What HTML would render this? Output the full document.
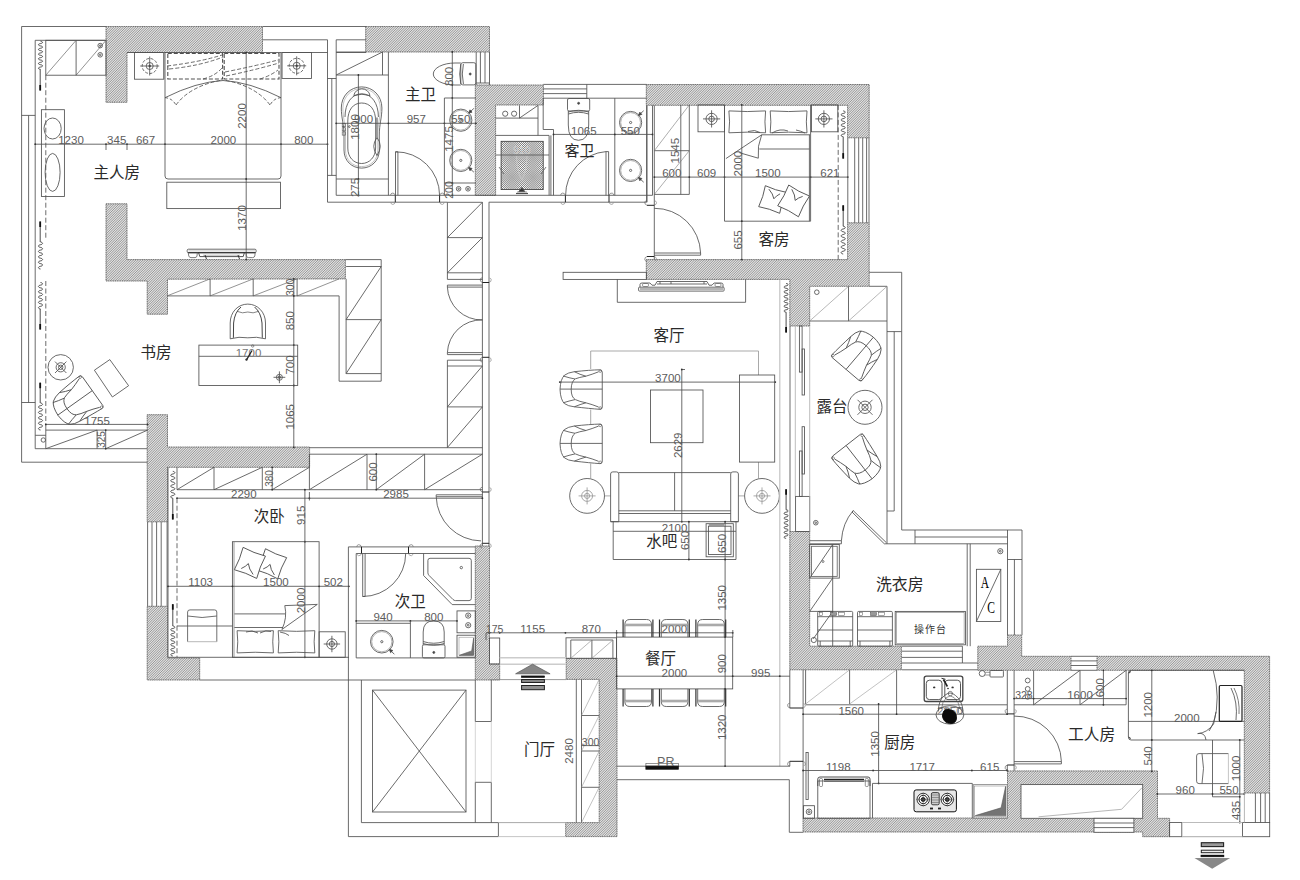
<!DOCTYPE html>
<html><head><meta charset="utf-8"><title>Floor plan</title>
<style>html,body{margin:0;padding:0;background:#fff}body{width:1300px;height:880px;overflow:hidden;font-family:"Liberation Sans",sans-serif}svg{display:block}</style>
</head><body>
<svg width="1300" height="880" viewBox="0 0 1300 880" fill="none" stroke="#505050" stroke-width="0.85" font-family="Liberation Sans, sans-serif">
<defs>
<pattern id="h" width="1.7" height="1.7" patternUnits="userSpaceOnUse"><rect width="1.7" height="1.7" fill="#fff" stroke="none"/><path d="M-0.425 0.425 L0.425 -0.425 M0 1.7 L1.7 0 M1.275 2.125 L2.125 1.275" stroke="#555" stroke-width="0.5"/></pattern>
<pattern id="x" width="2.4" height="2.4" patternUnits="userSpaceOnUse"><rect width="2.4" height="2.4" fill="#fff" stroke="none"/><path d="M0 0 L2.4 2.4 M2.4 0 L0 2.4" stroke="#222" stroke-width="0.75"/></pattern>
</defs>
<rect width="1300" height="880" fill="#fff" stroke="none"/>
<path d="M106 26.5 L262.5 26.5 L262.5 52.5 L127 52.5 L127 102.3 L106 102.3 Z" fill="#fff" stroke="none"/>
<path d="M365.7 26.5 L489.5 26.5 L489.5 52 L365.7 52 Z" fill="#fff" stroke="none"/>
<path d="M475.3 85 L543.4 85 L543.4 105 L495.6 105 L495.6 195.4 L475.3 195.4 Z" fill="#fff" stroke="none"/>
<path d="M646.3 84.5 L869.2 84.5 L869.2 137.8 L847.6 137.8 L847.6 105.3 L646.3 105.3 Z" fill="#fff" stroke="none"/>
<path d="M106 203.8 L127 203.8 L127 259.6 L345.4 259.6 L345.4 278.9 L167.5 279.2 L167.5 314.2 L147.2 314.2 L147.2 281 L106 281 Z" fill="#fff" stroke="none"/>
<path d="M646.3 259.6 L847.6 259.6 L847.6 222.8 L869.2 222.8 L869.2 286.3 L809.7 286.3 L809.7 326 L789.8 326 L789.8 279.4 L646.3 279.4 Z" fill="#fff" stroke="none"/>
<path d="M147.2 414.7 L167.5 414.7 L167.5 447 L309.6 447 L309.6 467.3 L167.5 467.3 L167.5 521.8 L147.2 521.8 Z" fill="#fff" stroke="none"/>
<path d="M147.2 606.3 L167.5 606.3 L167.5 657.9 L199.7 657.9 L199.7 680 L147.2 680 Z" fill="#fff" stroke="none"/>
<path d="M475.3 546 L489.5 546 L489.5 664 L499.7 664 L499.7 680 L475.3 680 Z" fill="#fff" stroke="none"/>
<path d="M566.2 658.4 L617 658.4 L617 836.6 L565.7 836.6 L565.7 822.6 L599.2 822.6 L599.2 679.4 L566.2 679.4 Z" fill="#fff" stroke="none"/>
<path d="M789.8 531.5 L809.7 531.5 L809.7 646.2 L901.4 646.2 L901.4 669.8 L789.8 669.8 Z" fill="#fff" stroke="none"/>
<path d="M1007.5 635 L1021.7 635 L1021.7 656.3 L1071 656.3 L1071 670.3 L977.8 670.3 L977.8 646.2 L1007.5 646.2 Z" fill="#fff" stroke="none"/>
<path d="M1097 656.3 L1269.6 656.3 L1269.6 793 L1244.3 793 L1244.3 670.3 L1097 670.3 Z" fill="#fff" stroke="none"/>
<path d="M803 818 L1007.5 818 L1007.5 770.9 L1157.5 770.9 L1157.5 818.3 L1169.6 818.3 L1169.6 836.7 L1142.7 836.7 L1142.7 832 L803 832 Z" fill="#fff" stroke="none"/>
<clipPath id="wc"><path d="M106 26.5 L262.5 26.5 L262.5 52.5 L127 52.5 L127 102.3 L106 102.3 Z M365.7 26.5 L489.5 26.5 L489.5 52 L365.7 52 Z M475.3 85 L543.4 85 L543.4 105 L495.6 105 L495.6 195.4 L475.3 195.4 Z M646.3 84.5 L869.2 84.5 L869.2 137.8 L847.6 137.8 L847.6 105.3 L646.3 105.3 Z M106 203.8 L127 203.8 L127 259.6 L345.4 259.6 L345.4 278.9 L167.5 279.2 L167.5 314.2 L147.2 314.2 L147.2 281 L106 281 Z M646.3 259.6 L847.6 259.6 L847.6 222.8 L869.2 222.8 L869.2 286.3 L809.7 286.3 L809.7 326 L789.8 326 L789.8 279.4 L646.3 279.4 Z M147.2 414.7 L167.5 414.7 L167.5 447 L309.6 447 L309.6 467.3 L167.5 467.3 L167.5 521.8 L147.2 521.8 Z M147.2 606.3 L167.5 606.3 L167.5 657.9 L199.7 657.9 L199.7 680 L147.2 680 Z M475.3 546 L489.5 546 L489.5 664 L499.7 664 L499.7 680 L475.3 680 Z M566.2 658.4 L617 658.4 L617 836.6 L565.7 836.6 L565.7 822.6 L599.2 822.6 L599.2 679.4 L566.2 679.4 Z M789.8 531.5 L809.7 531.5 L809.7 646.2 L901.4 646.2 L901.4 669.8 L789.8 669.8 Z M1007.5 635 L1021.7 635 L1021.7 656.3 L1071 656.3 L1071 670.3 L977.8 670.3 L977.8 646.2 L1007.5 646.2 Z M1097 656.3 L1269.6 656.3 L1269.6 793 L1244.3 793 L1244.3 670.3 L1097 670.3 Z M803 818 L1007.5 818 L1007.5 770.9 L1157.5 770.9 L1157.5 818.3 L1169.6 818.3 L1169.6 836.7 L1142.7 836.7 L1142.7 832 L803 832 Z"/></clipPath>
<path clip-path="url(#wc)" d="M0 0L-880 880M1.7 0L-878.3 880M3.4 0L-876.6 880M5.1 0L-874.9 880M6.8 0L-873.2 880M8.5 0L-871.5 880M10.2 0L-869.8 880M11.9 0L-868.1 880M13.6 0L-866.4 880M15.3 0L-864.7 880M17 0L-863 880M18.7 0L-861.3 880M20.4 0L-859.6 880M22.1 0L-857.9 880M23.8 0L-856.2 880M25.5 0L-854.5 880M27.2 0L-852.8 880M28.9 0L-851.1 880M30.6 0L-849.4 880M32.3 0L-847.7 880M34 0L-846 880M35.7 0L-844.3 880M37.4 0L-842.6 880M39.1 0L-840.9 880M40.8 0L-839.2 880M42.5 0L-837.5 880M44.2 0L-835.8 880M45.9 0L-834.1 880M47.6 0L-832.4 880M49.3 0L-830.7 880M51 0L-829 880M52.7 0L-827.3 880M54.4 0L-825.6 880M56.1 0L-823.9 880M57.8 0L-822.2 880M59.5 0L-820.5 880M61.2 0L-818.8 880M62.9 0L-817.1 880M64.6 0L-815.4 880M66.3 0L-813.7 880M68 0L-812 880M69.7 0L-810.3 880M71.4 0L-808.6 880M73.1 0L-806.9 880M74.8 0L-805.2 880M76.5 0L-803.5 880M78.2 0L-801.8 880M79.9 0L-800.1 880M81.6 0L-798.4 880M83.3 0L-796.7 880M85 0L-795 880M86.7 0L-793.3 880M88.4 0L-791.6 880M90.1 0L-789.9 880M91.8 0L-788.2 880M93.5 0L-786.5 880M95.2 0L-784.8 880M96.9 0L-783.1 880M98.6 0L-781.4 880M100.3 0L-779.7 880M102 0L-778 880M103.7 0L-776.3 880M105.4 0L-774.6 880M107.1 0L-772.9 880M108.8 0L-771.2 880M110.5 0L-769.5 880M112.2 0L-767.8 880M113.9 0L-766.1 880M115.6 0L-764.4 880M117.3 0L-762.7 880M119 0L-761 880M120.7 0L-759.3 880M122.4 0L-757.6 880M124.1 0L-755.9 880M125.8 0L-754.2 880M127.5 0L-752.5 880M129.2 0L-750.8 880M130.9 0L-749.1 880M132.6 0L-747.4 880M134.3 0L-745.7 880M136 0L-744 880M137.7 0L-742.3 880M139.4 0L-740.6 880M141.1 0L-738.9 880M142.8 0L-737.2 880M144.5 0L-735.5 880M146.2 0L-733.8 880M147.9 0L-732.1 880M149.6 0L-730.4 880M151.3 0L-728.7 880M153 0L-727 880M154.7 0L-725.3 880M156.4 0L-723.6 880M158.1 0L-721.9 880M159.8 0L-720.2 880M161.5 0L-718.5 880M163.2 0L-716.8 880M164.9 0L-715.1 880M166.6 0L-713.4 880M168.3 0L-711.7 880M170 0L-710 880M171.7 0L-708.3 880M173.4 0L-706.6 880M175.1 0L-704.9 880M176.8 0L-703.2 880M178.5 0L-701.5 880M180.2 0L-699.8 880M181.9 0L-698.1 880M183.6 0L-696.4 880M185.3 0L-694.7 880M187 0L-693 880M188.7 0L-691.3 880M190.4 0L-689.6 880M192.1 0L-687.9 880M193.8 0L-686.2 880M195.5 0L-684.5 880M197.2 0L-682.8 880M198.9 0L-681.1 880M200.6 0L-679.4 880M202.3 0L-677.7 880M204 0L-676 880M205.7 0L-674.3 880M207.4 0L-672.6 880M209.1 0L-670.9 880M210.8 0L-669.2 880M212.5 0L-667.5 880M214.2 0L-665.8 880M215.9 0L-664.1 880M217.6 0L-662.4 880M219.3 0L-660.7 880M221 0L-659 880M222.7 0L-657.3 880M224.4 0L-655.6 880M226.1 0L-653.9 880M227.8 0L-652.2 880M229.5 0L-650.5 880M231.2 0L-648.8 880M232.9 0L-647.1 880M234.6 0L-645.4 880M236.3 0L-643.7 880M238 0L-642 880M239.7 0L-640.3 880M241.4 0L-638.6 880M243.1 0L-636.9 880M244.8 0L-635.2 880M246.5 0L-633.5 880M248.2 0L-631.8 880M249.9 0L-630.1 880M251.6 0L-628.4 880M253.3 0L-626.7 880M255 0L-625 880M256.7 0L-623.3 880M258.4 0L-621.6 880M260.1 0L-619.9 880M261.8 0L-618.2 880M263.5 0L-616.5 880M265.2 0L-614.8 880M266.9 0L-613.1 880M268.6 0L-611.4 880M270.3 0L-609.7 880M272 0L-608 880M273.7 0L-606.3 880M275.4 0L-604.6 880M277.1 0L-602.9 880M278.8 0L-601.2 880M280.5 0L-599.5 880M282.2 0L-597.8 880M283.9 0L-596.1 880M285.6 0L-594.4 880M287.3 0L-592.7 880M289 0L-591 880M290.7 0L-589.3 880M292.4 0L-587.6 880M294.1 0L-585.9 880M295.8 0L-584.2 880M297.5 0L-582.5 880M299.2 0L-580.8 880M300.9 0L-579.1 880M302.6 0L-577.4 880M304.3 0L-575.7 880M306 0L-574 880M307.7 0L-572.3 880M309.4 0L-570.6 880M311.1 0L-568.9 880M312.8 0L-567.2 880M314.5 0L-565.5 880M316.2 0L-563.8 880M317.9 0L-562.1 880M319.6 0L-560.4 880M321.3 0L-558.7 880M323 0L-557 880M324.7 0L-555.3 880M326.4 0L-553.6 880M328.1 0L-551.9 880M329.8 0L-550.2 880M331.5 0L-548.5 880M333.2 0L-546.8 880M334.9 0L-545.1 880M336.6 0L-543.4 880M338.3 0L-541.7 880M340 0L-540 880M341.7 0L-538.3 880M343.4 0L-536.6 880M345.1 0L-534.9 880M346.8 0L-533.2 880M348.5 0L-531.5 880M350.2 0L-529.8 880M351.9 0L-528.1 880M353.6 0L-526.4 880M355.3 0L-524.7 880M357 0L-523 880M358.7 0L-521.3 880M360.4 0L-519.6 880M362.1 0L-517.9 880M363.8 0L-516.2 880M365.5 0L-514.5 880M367.2 0L-512.8 880M368.9 0L-511.1 880M370.6 0L-509.4 880M372.3 0L-507.7 880M374 0L-506 880M375.7 0L-504.3 880M377.4 0L-502.6 880M379.1 0L-500.9 880M380.8 0L-499.2 880M382.5 0L-497.5 880M384.2 0L-495.8 880M385.9 0L-494.1 880M387.6 0L-492.4 880M389.3 0L-490.7 880M391 0L-489 880M392.7 0L-487.3 880M394.4 0L-485.6 880M396.1 0L-483.9 880M397.8 0L-482.2 880M399.5 0L-480.5 880M401.2 0L-478.8 880M402.9 0L-477.1 880M404.6 0L-475.4 880M406.3 0L-473.7 880M408 0L-472 880M409.7 0L-470.3 880M411.4 0L-468.6 880M413.1 0L-466.9 880M414.8 0L-465.2 880M416.5 0L-463.5 880M418.2 0L-461.8 880M419.9 0L-460.1 880M421.6 0L-458.4 880M423.3 0L-456.7 880M425 0L-455 880M426.7 0L-453.3 880M428.4 0L-451.6 880M430.1 0L-449.9 880M431.8 0L-448.2 880M433.5 0L-446.5 880M435.2 0L-444.8 880M436.9 0L-443.1 880M438.6 0L-441.4 880M440.3 0L-439.7 880M442 0L-438 880M443.7 0L-436.3 880M445.4 0L-434.6 880M447.1 0L-432.9 880M448.8 0L-431.2 880M450.5 0L-429.5 880M452.2 0L-427.8 880M453.9 0L-426.1 880M455.6 0L-424.4 880M457.3 0L-422.7 880M459 0L-421 880M460.7 0L-419.3 880M462.4 0L-417.6 880M464.1 0L-415.9 880M465.8 0L-414.2 880M467.5 0L-412.5 880M469.2 0L-410.8 880M470.9 0L-409.1 880M472.6 0L-407.4 880M474.3 0L-405.7 880M476 0L-404 880M477.7 0L-402.3 880M479.4 0L-400.6 880M481.1 0L-398.9 880M482.8 0L-397.2 880M484.5 0L-395.5 880M486.2 0L-393.8 880M487.9 0L-392.1 880M489.6 0L-390.4 880M491.3 0L-388.7 880M493 0L-387 880M494.7 0L-385.3 880M496.4 0L-383.6 880M498.1 0L-381.9 880M499.8 0L-380.2 880M501.5 0L-378.5 880M503.2 0L-376.8 880M504.9 0L-375.1 880M506.6 0L-373.4 880M508.3 0L-371.7 880M510 0L-370 880M511.7 0L-368.3 880M513.4 0L-366.6 880M515.1 0L-364.9 880M516.8 0L-363.2 880M518.5 0L-361.5 880M520.2 0L-359.8 880M521.9 0L-358.1 880M523.6 0L-356.4 880M525.3 0L-354.7 880M527 0L-353 880M528.7 0L-351.3 880M530.4 0L-349.6 880M532.1 0L-347.9 880M533.8 0L-346.2 880M535.5 0L-344.5 880M537.2 0L-342.8 880M538.9 0L-341.1 880M540.6 0L-339.4 880M542.3 0L-337.7 880M544 0L-336 880M545.7 0L-334.3 880M547.4 0L-332.6 880M549.1 0L-330.9 880M550.8 0L-329.2 880M552.5 0L-327.5 880M554.2 0L-325.8 880M555.9 0L-324.1 880M557.6 0L-322.4 880M559.3 0L-320.7 880M561 0L-319 880M562.7 0L-317.3 880M564.4 0L-315.6 880M566.1 0L-313.9 880M567.8 0L-312.2 880M569.5 0L-310.5 880M571.2 0L-308.8 880M572.9 0L-307.1 880M574.6 0L-305.4 880M576.3 0L-303.7 880M578 0L-302 880M579.7 0L-300.3 880M581.4 0L-298.6 880M583.1 0L-296.9 880M584.8 0L-295.2 880M586.5 0L-293.5 880M588.2 0L-291.8 880M589.9 0L-290.1 880M591.6 0L-288.4 880M593.3 0L-286.7 880M595 0L-285 880M596.7 0L-283.3 880M598.4 0L-281.6 880M600.1 0L-279.9 880M601.8 0L-278.2 880M603.5 0L-276.5 880M605.2 0L-274.8 880M606.9 0L-273.1 880M608.6 0L-271.4 880M610.3 0L-269.7 880M612 0L-268 880M613.7 0L-266.3 880M615.4 0L-264.6 880M617.1 0L-262.9 880M618.8 0L-261.2 880M620.5 0L-259.5 880M622.2 0L-257.8 880M623.9 0L-256.1 880M625.6 0L-254.4 880M627.3 0L-252.7 880M629 0L-251 880M630.7 0L-249.3 880M632.4 0L-247.6 880M634.1 0L-245.9 880M635.8 0L-244.2 880M637.5 0L-242.5 880M639.2 0L-240.8 880M640.9 0L-239.1 880M642.6 0L-237.4 880M644.3 0L-235.7 880M646 0L-234 880M647.7 0L-232.3 880M649.4 0L-230.6 880M651.1 0L-228.9 880M652.8 0L-227.2 880M654.5 0L-225.5 880M656.2 0L-223.8 880M657.9 0L-222.1 880M659.6 0L-220.4 880M661.3 0L-218.7 880M663 0L-217 880M664.7 0L-215.3 880M666.4 0L-213.6 880M668.1 0L-211.9 880M669.8 0L-210.2 880M671.5 0L-208.5 880M673.2 0L-206.8 880M674.9 0L-205.1 880M676.6 0L-203.4 880M678.3 0L-201.7 880M680 0L-200 880M681.7 0L-198.3 880M683.4 0L-196.6 880M685.1 0L-194.9 880M686.8 0L-193.2 880M688.5 0L-191.5 880M690.2 0L-189.8 880M691.9 0L-188.1 880M693.6 0L-186.4 880M695.3 0L-184.7 880M697 0L-183 880M698.7 0L-181.3 880M700.4 0L-179.6 880M702.1 0L-177.9 880M703.8 0L-176.2 880M705.5 0L-174.5 880M707.2 0L-172.8 880M708.9 0L-171.1 880M710.6 0L-169.4 880M712.3 0L-167.7 880M714 0L-166 880M715.7 0L-164.3 880M717.4 0L-162.6 880M719.1 0L-160.9 880M720.8 0L-159.2 880M722.5 0L-157.5 880M724.2 0L-155.8 880M725.9 0L-154.1 880M727.6 0L-152.4 880M729.3 0L-150.7 880M731 0L-149 880M732.7 0L-147.3 880M734.4 0L-145.6 880M736.1 0L-143.9 880M737.8 0L-142.2 880M739.5 0L-140.5 880M741.2 0L-138.8 880M742.9 0L-137.1 880M744.6 0L-135.4 880M746.3 0L-133.7 880M748 0L-132 880M749.7 0L-130.3 880M751.4 0L-128.6 880M753.1 0L-126.9 880M754.8 0L-125.2 880M756.5 0L-123.5 880M758.2 0L-121.8 880M759.9 0L-120.1 880M761.6 0L-118.4 880M763.3 0L-116.7 880M765 0L-115 880M766.7 0L-113.3 880M768.4 0L-111.6 880M770.1 0L-109.9 880M771.8 0L-108.2 880M773.5 0L-106.5 880M775.2 0L-104.8 880M776.9 0L-103.1 880M778.6 0L-101.4 880M780.3 0L-99.7 880M782 0L-98 880M783.7 0L-96.3 880M785.4 0L-94.6 880M787.1 0L-92.9 880M788.8 0L-91.2 880M790.5 0L-89.5 880M792.2 0L-87.8 880M793.9 0L-86.1 880M795.6 0L-84.4 880M797.3 0L-82.7 880M799 0L-81 880M800.7 0L-79.3 880M802.4 0L-77.6 880M804.1 0L-75.9 880M805.8 0L-74.2 880M807.5 0L-72.5 880M809.2 0L-70.8 880M810.9 0L-69.1 880M812.6 0L-67.4 880M814.3 0L-65.7 880M816 0L-64 880M817.7 0L-62.3 880M819.4 0L-60.6 880M821.1 0L-58.9 880M822.8 0L-57.2 880M824.5 0L-55.5 880M826.2 0L-53.8 880M827.9 0L-52.1 880M829.6 0L-50.4 880M831.3 0L-48.7 880M833 0L-47 880M834.7 0L-45.3 880M836.4 0L-43.6 880M838.1 0L-41.9 880M839.8 0L-40.2 880M841.5 0L-38.5 880M843.2 0L-36.8 880M844.9 0L-35.1 880M846.6 0L-33.4 880M848.3 0L-31.7 880M850 0L-30 880M851.7 0L-28.3 880M853.4 0L-26.6 880M855.1 0L-24.9 880M856.8 0L-23.2 880M858.5 0L-21.5 880M860.2 0L-19.8 880M861.9 0L-18.1 880M863.6 0L-16.4 880M865.3 0L-14.7 880M867 0L-13 880M868.7 0L-11.3 880M870.4 0L-9.6 880M872.1 0L-7.9 880M873.8 0L-6.2 880M875.5 0L-4.5 880M877.2 0L-2.8 880M878.9 0L-1.1 880M880.6 0L0.6 880M882.3 0L2.3 880M884 0L4 880M885.7 0L5.7 880M887.4 0L7.4 880M889.1 0L9.1 880M890.8 0L10.8 880M892.5 0L12.5 880M894.2 0L14.2 880M895.9 0L15.9 880M897.6 0L17.6 880M899.3 0L19.3 880M901 0L21 880M902.7 0L22.7 880M904.4 0L24.4 880M906.1 0L26.1 880M907.8 0L27.8 880M909.5 0L29.5 880M911.2 0L31.2 880M912.9 0L32.9 880M914.6 0L34.6 880M916.3 0L36.3 880M918 0L38 880M919.7 0L39.7 880M921.4 0L41.4 880M923.1 0L43.1 880M924.8 0L44.8 880M926.5 0L46.5 880M928.2 0L48.2 880M929.9 0L49.9 880M931.6 0L51.6 880M933.3 0L53.3 880M935 0L55 880M936.7 0L56.7 880M938.4 0L58.4 880M940.1 0L60.1 880M941.8 0L61.8 880M943.5 0L63.5 880M945.2 0L65.2 880M946.9 0L66.9 880M948.6 0L68.6 880M950.3 0L70.3 880M952 0L72 880M953.7 0L73.7 880M955.4 0L75.4 880M957.1 0L77.1 880M958.8 0L78.8 880M960.5 0L80.5 880M962.2 0L82.2 880M963.9 0L83.9 880M965.6 0L85.6 880M967.3 0L87.3 880M969 0L89 880M970.7 0L90.7 880M972.4 0L92.4 880M974.1 0L94.1 880M975.8 0L95.8 880M977.5 0L97.5 880M979.2 0L99.2 880M980.9 0L100.9 880M982.6 0L102.6 880M984.3 0L104.3 880M986 0L106 880M987.7 0L107.7 880M989.4 0L109.4 880M991.1 0L111.1 880M992.8 0L112.8 880M994.5 0L114.5 880M996.2 0L116.2 880M997.9 0L117.9 880M999.6 0L119.6 880M1001.3 0L121.3 880M1003 0L123 880M1004.7 0L124.7 880M1006.4 0L126.4 880M1008.1 0L128.1 880M1009.8 0L129.8 880M1011.5 0L131.5 880M1013.2 0L133.2 880M1014.9 0L134.9 880M1016.6 0L136.6 880M1018.3 0L138.3 880M1020 0L140 880M1021.7 0L141.7 880M1023.4 0L143.4 880M1025.1 0L145.1 880M1026.8 0L146.8 880M1028.5 0L148.5 880M1030.2 0L150.2 880M1031.9 0L151.9 880M1033.6 0L153.6 880M1035.3 0L155.3 880M1037 0L157 880M1038.7 0L158.7 880M1040.4 0L160.4 880M1042.1 0L162.1 880M1043.8 0L163.8 880M1045.5 0L165.5 880M1047.2 0L167.2 880M1048.9 0L168.9 880M1050.6 0L170.6 880M1052.3 0L172.3 880M1054 0L174 880M1055.7 0L175.7 880M1057.4 0L177.4 880M1059.1 0L179.1 880M1060.8 0L180.8 880M1062.5 0L182.5 880M1064.2 0L184.2 880M1065.9 0L185.9 880M1067.6 0L187.6 880M1069.3 0L189.3 880M1071 0L191 880M1072.7 0L192.7 880M1074.4 0L194.4 880M1076.1 0L196.1 880M1077.8 0L197.8 880M1079.5 0L199.5 880M1081.2 0L201.2 880M1082.9 0L202.9 880M1084.6 0L204.6 880M1086.3 0L206.3 880M1088 0L208 880M1089.7 0L209.7 880M1091.4 0L211.4 880M1093.1 0L213.1 880M1094.8 0L214.8 880M1096.5 0L216.5 880M1098.2 0L218.2 880M1099.9 0L219.9 880M1101.6 0L221.6 880M1103.3 0L223.3 880M1105 0L225 880M1106.7 0L226.7 880M1108.4 0L228.4 880M1110.1 0L230.1 880M1111.8 0L231.8 880M1113.5 0L233.5 880M1115.2 0L235.2 880M1116.9 0L236.9 880M1118.6 0L238.6 880M1120.3 0L240.3 880M1122 0L242 880M1123.7 0L243.7 880M1125.4 0L245.4 880M1127.1 0L247.1 880M1128.8 0L248.8 880M1130.5 0L250.5 880M1132.2 0L252.2 880M1133.9 0L253.9 880M1135.6 0L255.6 880M1137.3 0L257.3 880M1139 0L259 880M1140.7 0L260.7 880M1142.4 0L262.4 880M1144.1 0L264.1 880M1145.8 0L265.8 880M1147.5 0L267.5 880M1149.2 0L269.2 880M1150.9 0L270.9 880M1152.6 0L272.6 880M1154.3 0L274.3 880M1156 0L276 880M1157.7 0L277.7 880M1159.4 0L279.4 880M1161.1 0L281.1 880M1162.8 0L282.8 880M1164.5 0L284.5 880M1166.2 0L286.2 880M1167.9 0L287.9 880M1169.6 0L289.6 880M1171.3 0L291.3 880M1173 0L293 880M1174.7 0L294.7 880M1176.4 0L296.4 880M1178.1 0L298.1 880M1179.8 0L299.8 880M1181.5 0L301.5 880M1183.2 0L303.2 880M1184.9 0L304.9 880M1186.6 0L306.6 880M1188.3 0L308.3 880M1190 0L310 880M1191.7 0L311.7 880M1193.4 0L313.4 880M1195.1 0L315.1 880M1196.8 0L316.8 880M1198.5 0L318.5 880M1200.2 0L320.2 880M1201.9 0L321.9 880M1203.6 0L323.6 880M1205.3 0L325.3 880M1207 0L327 880M1208.7 0L328.7 880M1210.4 0L330.4 880M1212.1 0L332.1 880M1213.8 0L333.8 880M1215.5 0L335.5 880M1217.2 0L337.2 880M1218.9 0L338.9 880M1220.6 0L340.6 880M1222.3 0L342.3 880M1224 0L344 880M1225.7 0L345.7 880M1227.4 0L347.4 880M1229.1 0L349.1 880M1230.8 0L350.8 880M1232.5 0L352.5 880M1234.2 0L354.2 880M1235.9 0L355.9 880M1237.6 0L357.6 880M1239.3 0L359.3 880M1241 0L361 880M1242.7 0L362.7 880M1244.4 0L364.4 880M1246.1 0L366.1 880M1247.8 0L367.8 880M1249.5 0L369.5 880M1251.2 0L371.2 880M1252.9 0L372.9 880M1254.6 0L374.6 880M1256.3 0L376.3 880M1258 0L378 880M1259.7 0L379.7 880M1261.4 0L381.4 880M1263.1 0L383.1 880M1264.8 0L384.8 880M1266.5 0L386.5 880M1268.2 0L388.2 880M1269.9 0L389.9 880M1271.6 0L391.6 880M1273.3 0L393.3 880M1275 0L395 880M1276.7 0L396.7 880M1278.4 0L398.4 880M1280.1 0L400.1 880M1281.8 0L401.8 880M1283.5 0L403.5 880M1285.2 0L405.2 880M1286.9 0L406.9 880M1288.6 0L408.6 880M1290.3 0L410.3 880M1292 0L412 880M1293.7 0L413.7 880M1295.4 0L415.4 880M1297.1 0L417.1 880M1298.8 0L418.8 880M1300.5 0L420.5 880M1302.2 0L422.2 880M1303.9 0L423.9 880M1305.6 0L425.6 880M1307.3 0L427.3 880M1309 0L429 880M1310.7 0L430.7 880M1312.4 0L432.4 880M1314.1 0L434.1 880M1315.8 0L435.8 880M1317.5 0L437.5 880M1319.2 0L439.2 880M1320.9 0L440.9 880M1322.6 0L442.6 880M1324.3 0L444.3 880M1326 0L446 880M1327.7 0L447.7 880M1329.4 0L449.4 880M1331.1 0L451.1 880M1332.8 0L452.8 880M1334.5 0L454.5 880M1336.2 0L456.2 880M1337.9 0L457.9 880M1339.6 0L459.6 880M1341.3 0L461.3 880M1343 0L463 880M1344.7 0L464.7 880M1346.4 0L466.4 880M1348.1 0L468.1 880M1349.8 0L469.8 880M1351.5 0L471.5 880M1353.2 0L473.2 880M1354.9 0L474.9 880M1356.6 0L476.6 880M1358.3 0L478.3 880M1360 0L480 880M1361.7 0L481.7 880M1363.4 0L483.4 880M1365.1 0L485.1 880M1366.8 0L486.8 880M1368.5 0L488.5 880M1370.2 0L490.2 880M1371.9 0L491.9 880M1373.6 0L493.6 880M1375.3 0L495.3 880M1377 0L497 880M1378.7 0L498.7 880M1380.4 0L500.4 880M1382.1 0L502.1 880M1383.8 0L503.8 880M1385.5 0L505.5 880M1387.2 0L507.2 880M1388.9 0L508.9 880M1390.6 0L510.6 880M1392.3 0L512.3 880M1394 0L514 880M1395.7 0L515.7 880M1397.4 0L517.4 880M1399.1 0L519.1 880M1400.8 0L520.8 880M1402.5 0L522.5 880M1404.2 0L524.2 880M1405.9 0L525.9 880M1407.6 0L527.6 880M1409.3 0L529.3 880M1411 0L531 880M1412.7 0L532.7 880M1414.4 0L534.4 880M1416.1 0L536.1 880M1417.8 0L537.8 880M1419.5 0L539.5 880M1421.2 0L541.2 880M1422.9 0L542.9 880M1424.6 0L544.6 880M1426.3 0L546.3 880M1428 0L548 880M1429.7 0L549.7 880M1431.4 0L551.4 880M1433.1 0L553.1 880M1434.8 0L554.8 880M1436.5 0L556.5 880M1438.2 0L558.2 880M1439.9 0L559.9 880M1441.6 0L561.6 880M1443.3 0L563.3 880M1445 0L565 880M1446.7 0L566.7 880M1448.4 0L568.4 880M1450.1 0L570.1 880M1451.8 0L571.8 880M1453.5 0L573.5 880M1455.2 0L575.2 880M1456.9 0L576.9 880M1458.6 0L578.6 880M1460.3 0L580.3 880M1462 0L582 880M1463.7 0L583.7 880M1465.4 0L585.4 880M1467.1 0L587.1 880M1468.8 0L588.8 880M1470.5 0L590.5 880M1472.2 0L592.2 880M1473.9 0L593.9 880M1475.6 0L595.6 880M1477.3 0L597.3 880M1479 0L599 880M1480.7 0L600.7 880M1482.4 0L602.4 880M1484.1 0L604.1 880M1485.8 0L605.8 880M1487.5 0L607.5 880M1489.2 0L609.2 880M1490.9 0L610.9 880M1492.6 0L612.6 880M1494.3 0L614.3 880M1496 0L616 880M1497.7 0L617.7 880M1499.4 0L619.4 880M1501.1 0L621.1 880M1502.8 0L622.8 880M1504.5 0L624.5 880M1506.2 0L626.2 880M1507.9 0L627.9 880M1509.6 0L629.6 880M1511.3 0L631.3 880M1513 0L633 880M1514.7 0L634.7 880M1516.4 0L636.4 880M1518.1 0L638.1 880M1519.8 0L639.8 880M1521.5 0L641.5 880M1523.2 0L643.2 880M1524.9 0L644.9 880M1526.6 0L646.6 880M1528.3 0L648.3 880M1530 0L650 880M1531.7 0L651.7 880M1533.4 0L653.4 880M1535.1 0L655.1 880M1536.8 0L656.8 880M1538.5 0L658.5 880M1540.2 0L660.2 880M1541.9 0L661.9 880M1543.6 0L663.6 880M1545.3 0L665.3 880M1547 0L667 880M1548.7 0L668.7 880M1550.4 0L670.4 880M1552.1 0L672.1 880M1553.8 0L673.8 880M1555.5 0L675.5 880M1557.2 0L677.2 880M1558.9 0L678.9 880M1560.6 0L680.6 880M1562.3 0L682.3 880M1564 0L684 880M1565.7 0L685.7 880M1567.4 0L687.4 880M1569.1 0L689.1 880M1570.8 0L690.8 880M1572.5 0L692.5 880M1574.2 0L694.2 880M1575.9 0L695.9 880M1577.6 0L697.6 880M1579.3 0L699.3 880M1581 0L701 880M1582.7 0L702.7 880M1584.4 0L704.4 880M1586.1 0L706.1 880M1587.8 0L707.8 880M1589.5 0L709.5 880M1591.2 0L711.2 880M1592.9 0L712.9 880M1594.6 0L714.6 880M1596.3 0L716.3 880M1598 0L718 880M1599.7 0L719.7 880M1601.4 0L721.4 880M1603.1 0L723.1 880M1604.8 0L724.8 880M1606.5 0L726.5 880M1608.2 0L728.2 880M1609.9 0L729.9 880M1611.6 0L731.6 880M1613.3 0L733.3 880M1615 0L735 880M1616.7 0L736.7 880M1618.4 0L738.4 880M1620.1 0L740.1 880M1621.8 0L741.8 880M1623.5 0L743.5 880M1625.2 0L745.2 880M1626.9 0L746.9 880M1628.6 0L748.6 880M1630.3 0L750.3 880M1632 0L752 880M1633.7 0L753.7 880M1635.4 0L755.4 880M1637.1 0L757.1 880M1638.8 0L758.8 880M1640.5 0L760.5 880M1642.2 0L762.2 880M1643.9 0L763.9 880M1645.6 0L765.6 880M1647.3 0L767.3 880M1649 0L769 880M1650.7 0L770.7 880M1652.4 0L772.4 880M1654.1 0L774.1 880M1655.8 0L775.8 880M1657.5 0L777.5 880M1659.2 0L779.2 880M1660.9 0L780.9 880M1662.6 0L782.6 880M1664.3 0L784.3 880M1666 0L786 880M1667.7 0L787.7 880M1669.4 0L789.4 880M1671.1 0L791.1 880M1672.8 0L792.8 880M1674.5 0L794.5 880M1676.2 0L796.2 880M1677.9 0L797.9 880M1679.6 0L799.6 880M1681.3 0L801.3 880M1683 0L803 880M1684.7 0L804.7 880M1686.4 0L806.4 880M1688.1 0L808.1 880M1689.8 0L809.8 880M1691.5 0L811.5 880M1693.2 0L813.2 880M1694.9 0L814.9 880M1696.6 0L816.6 880M1698.3 0L818.3 880M1700 0L820 880M1701.7 0L821.7 880M1703.4 0L823.4 880M1705.1 0L825.1 880M1706.8 0L826.8 880M1708.5 0L828.5 880M1710.2 0L830.2 880M1711.9 0L831.9 880M1713.6 0L833.6 880M1715.3 0L835.3 880M1717 0L837 880M1718.7 0L838.7 880M1720.4 0L840.4 880M1722.1 0L842.1 880M1723.8 0L843.8 880M1725.5 0L845.5 880M1727.2 0L847.2 880M1728.9 0L848.9 880M1730.6 0L850.6 880M1732.3 0L852.3 880M1734 0L854 880M1735.7 0L855.7 880M1737.4 0L857.4 880M1739.1 0L859.1 880M1740.8 0L860.8 880M1742.5 0L862.5 880M1744.2 0L864.2 880M1745.9 0L865.9 880M1747.6 0L867.6 880M1749.3 0L869.3 880M1751 0L871 880M1752.7 0L872.7 880M1754.4 0L874.4 880M1756.1 0L876.1 880M1757.8 0L877.8 880M1759.5 0L879.5 880M1761.2 0L881.2 880M1762.9 0L882.9 880M1764.6 0L884.6 880M1766.3 0L886.3 880M1768 0L888 880M1769.7 0L889.7 880M1771.4 0L891.4 880M1773.1 0L893.1 880M1774.8 0L894.8 880M1776.5 0L896.5 880M1778.2 0L898.2 880M1779.9 0L899.9 880M1781.6 0L901.6 880M1783.3 0L903.3 880M1785 0L905 880M1786.7 0L906.7 880M1788.4 0L908.4 880M1790.1 0L910.1 880M1791.8 0L911.8 880M1793.5 0L913.5 880M1795.2 0L915.2 880M1796.9 0L916.9 880M1798.6 0L918.6 880M1800.3 0L920.3 880M1802 0L922 880M1803.7 0L923.7 880M1805.4 0L925.4 880M1807.1 0L927.1 880M1808.8 0L928.8 880M1810.5 0L930.5 880M1812.2 0L932.2 880M1813.9 0L933.9 880M1815.6 0L935.6 880M1817.3 0L937.3 880M1819 0L939 880M1820.7 0L940.7 880M1822.4 0L942.4 880M1824.1 0L944.1 880M1825.8 0L945.8 880M1827.5 0L947.5 880M1829.2 0L949.2 880M1830.9 0L950.9 880M1832.6 0L952.6 880M1834.3 0L954.3 880M1836 0L956 880M1837.7 0L957.7 880M1839.4 0L959.4 880M1841.1 0L961.1 880M1842.8 0L962.8 880M1844.5 0L964.5 880M1846.2 0L966.2 880M1847.9 0L967.9 880M1849.6 0L969.6 880M1851.3 0L971.3 880M1853 0L973 880M1854.7 0L974.7 880M1856.4 0L976.4 880M1858.1 0L978.1 880M1859.8 0L979.8 880M1861.5 0L981.5 880M1863.2 0L983.2 880M1864.9 0L984.9 880M1866.6 0L986.6 880M1868.3 0L988.3 880M1870 0L990 880M1871.7 0L991.7 880M1873.4 0L993.4 880M1875.1 0L995.1 880M1876.8 0L996.8 880M1878.5 0L998.5 880M1880.2 0L1000.2 880M1881.9 0L1001.9 880M1883.6 0L1003.6 880M1885.3 0L1005.3 880M1887 0L1007 880M1888.7 0L1008.7 880M1890.4 0L1010.4 880M1892.1 0L1012.1 880M1893.8 0L1013.8 880M1895.5 0L1015.5 880M1897.2 0L1017.2 880M1898.9 0L1018.9 880M1900.6 0L1020.6 880M1902.3 0L1022.3 880M1904 0L1024 880M1905.7 0L1025.7 880M1907.4 0L1027.4 880M1909.1 0L1029.1 880M1910.8 0L1030.8 880M1912.5 0L1032.5 880M1914.2 0L1034.2 880M1915.9 0L1035.9 880M1917.6 0L1037.6 880M1919.3 0L1039.3 880M1921 0L1041 880M1922.7 0L1042.7 880M1924.4 0L1044.4 880M1926.1 0L1046.1 880M1927.8 0L1047.8 880M1929.5 0L1049.5 880M1931.2 0L1051.2 880M1932.9 0L1052.9 880M1934.6 0L1054.6 880M1936.3 0L1056.3 880M1938 0L1058 880M1939.7 0L1059.7 880M1941.4 0L1061.4 880M1943.1 0L1063.1 880M1944.8 0L1064.8 880M1946.5 0L1066.5 880M1948.2 0L1068.2 880M1949.9 0L1069.9 880M1951.6 0L1071.6 880M1953.3 0L1073.3 880M1955 0L1075 880M1956.7 0L1076.7 880M1958.4 0L1078.4 880M1960.1 0L1080.1 880M1961.8 0L1081.8 880M1963.5 0L1083.5 880M1965.2 0L1085.2 880M1966.9 0L1086.9 880M1968.6 0L1088.6 880M1970.3 0L1090.3 880M1972 0L1092 880M1973.7 0L1093.7 880M1975.4 0L1095.4 880M1977.1 0L1097.1 880M1978.8 0L1098.8 880M1980.5 0L1100.5 880M1982.2 0L1102.2 880M1983.9 0L1103.9 880M1985.6 0L1105.6 880M1987.3 0L1107.3 880M1989 0L1109 880M1990.7 0L1110.7 880M1992.4 0L1112.4 880M1994.1 0L1114.1 880M1995.8 0L1115.8 880M1997.5 0L1117.5 880M1999.2 0L1119.2 880M2000.9 0L1120.9 880M2002.6 0L1122.6 880M2004.3 0L1124.3 880M2006 0L1126 880M2007.7 0L1127.7 880M2009.4 0L1129.4 880M2011.1 0L1131.1 880M2012.8 0L1132.8 880M2014.5 0L1134.5 880M2016.2 0L1136.2 880M2017.9 0L1137.9 880M2019.6 0L1139.6 880M2021.3 0L1141.3 880M2023 0L1143 880M2024.7 0L1144.7 880M2026.4 0L1146.4 880M2028.1 0L1148.1 880M2029.8 0L1149.8 880M2031.5 0L1151.5 880M2033.2 0L1153.2 880M2034.9 0L1154.9 880M2036.6 0L1156.6 880M2038.3 0L1158.3 880M2040 0L1160 880M2041.7 0L1161.7 880M2043.4 0L1163.4 880M2045.1 0L1165.1 880M2046.8 0L1166.8 880M2048.5 0L1168.5 880M2050.2 0L1170.2 880M2051.9 0L1171.9 880M2053.6 0L1173.6 880M2055.3 0L1175.3 880M2057 0L1177 880M2058.7 0L1178.7 880M2060.4 0L1180.4 880M2062.1 0L1182.1 880M2063.8 0L1183.8 880M2065.5 0L1185.5 880M2067.2 0L1187.2 880M2068.9 0L1188.9 880M2070.6 0L1190.6 880M2072.3 0L1192.3 880M2074 0L1194 880M2075.7 0L1195.7 880M2077.4 0L1197.4 880M2079.1 0L1199.1 880M2080.8 0L1200.8 880M2082.5 0L1202.5 880M2084.2 0L1204.2 880M2085.9 0L1205.9 880M2087.6 0L1207.6 880M2089.3 0L1209.3 880M2091 0L1211 880M2092.7 0L1212.7 880M2094.4 0L1214.4 880M2096.1 0L1216.1 880M2097.8 0L1217.8 880M2099.5 0L1219.5 880M2101.2 0L1221.2 880M2102.9 0L1222.9 880M2104.6 0L1224.6 880M2106.3 0L1226.3 880M2108 0L1228 880M2109.7 0L1229.7 880M2111.4 0L1231.4 880M2113.1 0L1233.1 880M2114.8 0L1234.8 880M2116.5 0L1236.5 880M2118.2 0L1238.2 880M2119.9 0L1239.9 880M2121.6 0L1241.6 880M2123.3 0L1243.3 880M2125 0L1245 880M2126.7 0L1246.7 880M2128.4 0L1248.4 880M2130.1 0L1250.1 880M2131.8 0L1251.8 880M2133.5 0L1253.5 880M2135.2 0L1255.2 880M2136.9 0L1256.9 880M2138.6 0L1258.6 880M2140.3 0L1260.3 880M2142 0L1262 880M2143.7 0L1263.7 880M2145.4 0L1265.4 880M2147.1 0L1267.1 880M2148.8 0L1268.8 880M2150.5 0L1270.5 880M2152.2 0L1272.2 880M2153.9 0L1273.9 880M2155.6 0L1275.6 880M2157.3 0L1277.3 880M2159 0L1279 880M2160.7 0L1280.7 880M2162.4 0L1282.4 880M2164.1 0L1284.1 880M2165.8 0L1285.8 880M2167.5 0L1287.5 880M2169.2 0L1289.2 880M2170.9 0L1290.9 880M2172.6 0L1292.6 880M2174.3 0L1294.3 880M2176 0L1296 880M2177.7 0L1297.7 880M2179.4 0L1299.4 880" stroke="#404040" stroke-width="0.54"/>
<path d="M106 26.5 L262.5 26.5 L262.5 52.5 L127 52.5 L127 102.3 L106 102.3 Z M365.7 26.5 L489.5 26.5 L489.5 52 L365.7 52 Z M475.3 85 L543.4 85 L543.4 105 L495.6 105 L495.6 195.4 L475.3 195.4 Z M646.3 84.5 L869.2 84.5 L869.2 137.8 L847.6 137.8 L847.6 105.3 L646.3 105.3 Z M106 203.8 L127 203.8 L127 259.6 L345.4 259.6 L345.4 278.9 L167.5 279.2 L167.5 314.2 L147.2 314.2 L147.2 281 L106 281 Z M646.3 259.6 L847.6 259.6 L847.6 222.8 L869.2 222.8 L869.2 286.3 L809.7 286.3 L809.7 326 L789.8 326 L789.8 279.4 L646.3 279.4 Z M147.2 414.7 L167.5 414.7 L167.5 447 L309.6 447 L309.6 467.3 L167.5 467.3 L167.5 521.8 L147.2 521.8 Z M147.2 606.3 L167.5 606.3 L167.5 657.9 L199.7 657.9 L199.7 680 L147.2 680 Z M475.3 546 L489.5 546 L489.5 664 L499.7 664 L499.7 680 L475.3 680 Z M566.2 658.4 L617 658.4 L617 836.6 L565.7 836.6 L565.7 822.6 L599.2 822.6 L599.2 679.4 L566.2 679.4 Z M789.8 531.5 L809.7 531.5 L809.7 646.2 L901.4 646.2 L901.4 669.8 L789.8 669.8 Z M1007.5 635 L1021.7 635 L1021.7 656.3 L1071 656.3 L1071 670.3 L977.8 670.3 L977.8 646.2 L1007.5 646.2 Z M1097 656.3 L1269.6 656.3 L1269.6 793 L1244.3 793 L1244.3 670.3 L1097 670.3 Z M803 818 L1007.5 818 L1007.5 770.9 L1157.5 770.9 L1157.5 818.3 L1169.6 818.3 L1169.6 836.7 L1142.7 836.7 L1142.7 832 L803 832 Z" stroke="#555" stroke-width="0.8" stroke-dasharray="1.3 0.5"/>
<rect x="1021" y="784.6" width="121.7" height="33.7" fill="#fff"/>
<rect x="1094" y="818.3" width="39.9" height="14" fill="#fff"/>
<line x1="1094" y1="823" x2="1133.9" y2="823"/>
<line x1="1094" y1="827.6" x2="1133.9" y2="827.6"/>
<line x1="21.6" y1="26.5" x2="106" y2="26.5"/>
<line x1="21.6" y1="26.5" x2="21.6" y2="462.2"/>
<line x1="21.6" y1="462.2" x2="147.2" y2="462.2"/>
<line x1="35.2" y1="40.3" x2="106" y2="40.3"/>
<line x1="35.2" y1="40.3" x2="35.2" y2="448.7"/>
<line x1="35.2" y1="448.7" x2="147.2" y2="448.7"/>
<line x1="21.6" y1="115.4" x2="35.2" y2="115.4"/>
<line x1="28.6" y1="115.4" x2="28.6" y2="402.5"/>
<line x1="21.6" y1="402.5" x2="35.2" y2="402.5"/>
<rect x="45.8" y="40.3" width="60.2" height="34.9"/>
<line x1="45.8" y1="75.2" x2="76.1" y2="40.3" stroke="#666" stroke-width="0.7"/>
<line x1="76.1" y1="75.2" x2="106" y2="40.3" stroke="#666" stroke-width="0.7"/>
<line x1="76.1" y1="40.3" x2="76.1" y2="75.2"/>
<circle cx="100.2" cy="45.6" r="2.3"/>
<circle cx="100.2" cy="54.8" r="2.3"/>
<circle cx="100.2" cy="45.6" r="0.8"/>
<circle cx="100.2" cy="54.8" r="0.8"/>
<path d="M40.5 41.2 C43.23 41.55 43.23 43.2 40.5 43.55 C37.77 43.9 37.77 45.55 40.5 45.9 C43.23 46.25 43.23 47.9 40.5 48.25 C37.77 48.6 37.77 50.25 40.5 50.6 C43.23 50.95 43.23 52.6 40.5 52.95 C37.77 53.3 37.77 54.95 40.5 55.3 C43.23 55.65 43.23 57.3 40.5 57.65 C37.77 58 37.77 59.65 40.5 60 C43.23 60.35 43.23 62 40.5 62.35 C37.77 62.7 37.77 64.35 40.5 64.7 C43.23 65.05 43.23 66.7 40.5 67.05 C37.77 67.4 37.77 69.05 40.5 69.4" stroke="#3a3a3a" stroke-width="0.9"/>
<line x1="40.2" y1="69.4" x2="40.2" y2="90.5" stroke="#3a3a3a" stroke-width="0.9"/>
<line x1="40.2" y1="85" x2="40.2" y2="90.5" stroke="#111" stroke-width="1.8"/>
<line x1="45.8" y1="75.2" x2="45.8" y2="240" stroke-dasharray="5 2.5"/>
<line x1="45.8" y1="281" x2="45.8" y2="428" stroke-dasharray="5 2.5"/>
<line x1="40.2" y1="242" x2="40.2" y2="221.5" stroke="#3a3a3a" stroke-width="0.9"/>
<line x1="40.2" y1="227" x2="40.2" y2="221.5" stroke="#111" stroke-width="1.8"/>
<path d="M40.5 242 C43.23 242.41 43.23 244.29 40.5 244.7 C37.77 245.1 37.77 247 40.5 247.4 C43.23 247.81 43.23 249.69 40.5 250.1 C37.77 250.5 37.77 252.4 40.5 252.8 C43.23 253.21 43.23 255.09 40.5 255.5 C37.77 255.91 37.77 257.8 40.5 258.2 C43.23 258.6 43.23 260.5 40.5 260.9 C37.77 261.31 37.77 263.19 40.5 263.6 C43.23 264 43.23 265.9 40.5 266.3 C37.77 266.71 37.77 268.6 40.5 269" stroke="#3a3a3a" stroke-width="0.9"/>
<path d="M40.5 282.5 C43.23 282.9 43.23 284.75 40.5 285.15 C37.77 285.55 37.77 287.4 40.5 287.8 C43.23 288.2 43.23 290.05 40.5 290.45 C37.77 290.85 37.77 292.7 40.5 293.1 C43.23 293.5 43.23 295.35 40.5 295.75 C37.77 296.15 37.77 298 40.5 298.4 C43.23 298.8 43.23 300.65 40.5 301.05 C37.77 301.45 37.77 303.3 40.5 303.7 C43.23 304.1 43.23 305.95 40.5 306.35 C37.77 306.75 37.77 308.6 40.5 309" stroke="#3a3a3a" stroke-width="0.9"/>
<line x1="40.2" y1="309" x2="40.2" y2="329.5" stroke="#3a3a3a" stroke-width="0.9"/>
<line x1="40.2" y1="324" x2="40.2" y2="329.5" stroke="#111" stroke-width="1.8"/>
<line x1="40.2" y1="403" x2="40.2" y2="382.7" stroke="#3a3a3a" stroke-width="0.9"/>
<line x1="40.2" y1="388.2" x2="40.2" y2="382.7" stroke="#111" stroke-width="1.8"/>
<path d="M40.5 403 C43.23 403.4 43.23 405.3 40.5 405.7 C37.77 406.11 37.77 408 40.5 408.4 C43.23 408.8 43.23 410.69 40.5 411.1 C37.77 411.5 37.77 413.39 40.5 413.8 C43.23 414.2 43.23 416.1 40.5 416.5 C37.77 416.91 37.77 418.8 40.5 419.2 C43.23 419.6 43.23 421.5 40.5 421.9 C37.77 422.31 37.77 424.19 40.5 424.6 C43.23 425 43.23 426.9 40.5 427.3 C37.77 427.71 37.77 429.6 40.5 430" stroke="#3a3a3a" stroke-width="0.9"/>
<rect x="41.4" y="109.7" width="23" height="86.8"/>
<ellipse cx="52.6" cy="128.5" rx="8.6" ry="10.5"/>
<ellipse cx="52.6" cy="172.4" rx="7.5" ry="19"/>
<line x1="35.2" y1="144.2" x2="327.5" y2="144.2"/>
<circle cx="35.2" cy="144.2" r="0.9" stroke="none" fill="#333"/>
<circle cx="106" cy="144.2" r="0.9" stroke="none" fill="#333"/>
<circle cx="127" cy="144.2" r="0.9" stroke="none" fill="#333"/>
<circle cx="165" cy="144.2" r="0.9" stroke="none" fill="#333"/>
<circle cx="281" cy="144.2" r="0.9" stroke="none" fill="#333"/>
<circle cx="327.5" cy="144.2" r="0.9" stroke="none" fill="#333"/>
<line x1="106" y1="144.2" x2="106" y2="150"/>
<line x1="127" y1="144.2" x2="127" y2="150"/>
<text x="71" y="143.9" font-size="11.5" text-anchor="middle" fill="#5c5c5c" stroke="none">1230</text>
<text x="116.7" y="143.9" font-size="11.5" text-anchor="middle" fill="#5c5c5c" stroke="none">345</text>
<text x="145.5" y="143.9" font-size="11.5" text-anchor="middle" fill="#5c5c5c" stroke="none">667</text>
<text x="223.4" y="143.9" font-size="11.5" text-anchor="middle" fill="#5c5c5c" stroke="none">2000</text>
<text x="303.8" y="143.9" font-size="11.5" text-anchor="middle" fill="#5c5c5c" stroke="none">800</text>
<line x1="262.7" y1="26.5" x2="366" y2="26.5"/>
<line x1="262.7" y1="39.8" x2="327.5" y2="39.8"/>
<line x1="336.2" y1="39.8" x2="366" y2="39.8"/>
<line x1="127" y1="52.5" x2="327.5" y2="52.5"/>
<line x1="336.2" y1="52.5" x2="366" y2="52.5"/>
<line x1="327.5" y1="39.8" x2="327.5" y2="202.2"/>
<line x1="336.2" y1="39.8" x2="336.2" y2="195.3"/>
<line x1="327.5" y1="78.5" x2="336.2" y2="78.5"/>
<line x1="331.8" y1="78.5" x2="331.8" y2="175.4"/>
<line x1="327.5" y1="175.4" x2="336.2" y2="175.4"/>
<rect x="134.5" y="52.5" width="29.2" height="26.7"/>
<circle cx="149.7" cy="66" r="7.5" stroke-dasharray="3 1.5"/>
<circle cx="149.7" cy="66" r="3.52"/>
<line x1="140.2" y1="66" x2="159.2" y2="66"/>
<line x1="149.7" y1="56.5" x2="149.7" y2="75.5"/>
<circle cx="149.7" cy="66" r="0.9" fill="#333"/>
<rect x="282" y="52.5" width="29.5" height="26"/>
<circle cx="296.7" cy="65.8" r="7.5" stroke-dasharray="3 1.5"/>
<circle cx="296.7" cy="65.8" r="3.52"/>
<line x1="287.2" y1="65.8" x2="306.2" y2="65.8"/>
<line x1="296.7" y1="56.3" x2="296.7" y2="75.3"/>
<circle cx="296.7" cy="65.8" r="0.9" fill="#333"/>
<path d="M165 52.5 L165 176 Q165 179 168 179 L278 179 Q281 179 281 176 L281 52.5"/>
<line x1="164" y1="52.5" x2="164" y2="79.2" stroke="#888" stroke-width="1.2"/>
<line x1="281.6" y1="52.5" x2="281.6" y2="78.5" stroke="#888" stroke-width="1.2"/>
<rect x="167.8" y="53.5" width="54.8" height="25.5" stroke-dasharray="4 2" stroke-width="1.1"/>
<rect x="224.2" y="53.5" width="54.8" height="25.5" stroke-dasharray="4 2" stroke-width="1.1"/>
<path d="M165 97.7 Q196 82 223 80.5 Q250 82 281 97.7"/>
<path d="M167 66 Q200 62 222 55" stroke-dasharray="4 2"/>
<path d="M169 69 Q200 66 223 57" stroke-dasharray="4 2"/>
<path d="M176 105 Q190 86 222 80" stroke-dasharray="4 2"/>
<path d="M165 97.7 Q172 98 176 105" stroke-dasharray="3 2"/>
<path d="M225 72 Q255 66 278 60" stroke-dasharray="4 2"/>
<path d="M226 76 Q255 70 279 63" stroke-dasharray="4 2"/>
<path d="M270 105 Q256 86 224 80" stroke-dasharray="4 2"/>
<path d="M281 97.7 Q274 98 270 105" stroke-dasharray="3 2"/>
<path d="M203 79 Q215 76 222 68" stroke-dasharray="4 2"/>
<path d="M260 79 Q270 76 278 70" stroke-dasharray="4 2"/>
<rect x="166.8" y="182.2" width="113.7" height="26.4"/>
<line x1="246.2" y1="52.5" x2="246.2" y2="259.6"/>
<circle cx="246.2" cy="52.5" r="0.9" stroke="none" fill="#333"/>
<circle cx="246.2" cy="179" r="0.9" stroke="none" fill="#333"/>
<circle cx="246.2" cy="259.6" r="0.9" stroke="none" fill="#333"/>
<text transform="translate(244.5 116) rotate(-90)" y="1.5" font-size="11.5" text-anchor="middle" fill="#5c5c5c" stroke="none">2200</text>
<text transform="translate(244.5 218) rotate(-90)" y="1.5" font-size="11.5" text-anchor="middle" fill="#5c5c5c" stroke="none">1370</text>
<rect x="187.2" y="249.2" width="68.9" height="3.5" rx="1.2"/>
<line x1="188" y1="252.7" x2="255.4" y2="252.7" stroke="#222" stroke-width="1.1"/>
<line x1="188.5" y1="250.9" x2="255" y2="250.9" stroke="#aaa" stroke-width="0.6"/>
<path d="M188.2 252.7 L188.8 256 Q189.2 257.6 191 257.6 L195 257.6 Q196.6 257.6 197 256 L197.3 252.7" stroke="#666"/>
<path d="M246 252.7 L246.4 256 Q246.8 257.6 248.6 257.6 L252.6 257.6 Q254.4 257.6 254.8 256 L255.2 252.7" stroke="#666"/>
<path d="M198.6 252.7 L199.8 256.6 L243.2 256.6 L244.4 252.7" stroke="#333"/>
<line x1="203" y1="255.2" x2="240" y2="255.2" stroke="#888" stroke-width="0.6"/>
<line x1="205" y1="255" x2="206.5" y2="259" stroke="#222" stroke-width="0.9"/>
<line x1="238" y1="255" x2="239.5" y2="259" stroke="#222" stroke-width="0.9"/>
<text x="93.5" y="177.66" font-size="15.52" font-family="Liberation Sans, Noto Sans CJK SC, sans-serif" fill="#2a2a2a" stroke="none">主人房</text>
<line x1="336.2" y1="52" x2="366" y2="52"/>
<line x1="336.2" y1="75" x2="388.4" y2="75"/>
<line x1="336.2" y1="75" x2="382.5" y2="52"/>
<line x1="382.5" y1="52" x2="382.5" y2="75"/>
<line x1="388.4" y1="52" x2="388.4" y2="195.3"/>
<line x1="336.2" y1="179" x2="388.4" y2="179"/>
<line x1="336.2" y1="195.3" x2="652.5" y2="195.3"/>
<line x1="327.5" y1="202.2" x2="447.4" y2="202.2"/>
<line x1="488.8" y1="202.2" x2="646.6" y2="202.2"/>
<path d="M361.6 86.9 C373 86.9 381.9 96 381.9 108 C381.9 118 379.3 124 379.3 135 L379.3 150 C379.3 161 371 168.1 361.6 168.1 C352 168.1 344 161 344 150 L344 135 C344 124 341.3 118 341.3 108 C341.3 96 350 86.9 361.6 86.9 Z"/>
<path d="M361.6 88.5 C372 88.5 380.3 97 380.3 108 C380.3 118 377.8 124 377.8 135 L377.8 150 C377.8 160 370.5 166.6 361.6 166.6 C352.7 166.6 345.5 160 345.5 150 L345.5 135 C345.5 124 342.9 118 342.9 108 C342.9 97 351 88.5 361.6 88.5 Z" stroke="#888" stroke-width="0.5"/>
<path d="M347.8 137 L347.8 121 C347.8 110 353 103 361.6 103 C370.5 103 375.6 110 375.6 121 L375.6 148 C375.6 157 369.5 163.5 361.6 163.5 C353.5 163.5 347.8 157 347.8 148 Z"/>
<path d="M345 117 C345 103 352 93.8 361.6 93.8 C371.5 93.8 378.4 103 378.4 117"/>
<path d="M353.8 95.6 A8.2 8 0 0 1 370 95.6"/>
<path d="M353.8 95.6 Q362 92.8 370 95.6"/>
<line x1="376.8" y1="117.5" x2="376.8" y2="137.5" stroke="#999" stroke-width="2.2"/>
<path d="M377 137.5 Q383.5 146 377 155.6 Q370.5 146 377 137.5"/>
<rect x="342.2" y="123.5" width="3.2" height="3.2" stroke-width="0.6"/>
<rect x="342.2" y="127.7" width="3.2" height="3.2" stroke-width="0.6"/>
<rect x="342.2" y="131.9" width="3.2" height="3.2" stroke-width="0.6"/>
<circle cx="349.3" cy="126.6" r="0.9"/>
<line x1="358.4" y1="75" x2="358.4" y2="195.3"/>
<circle cx="358.4" cy="75" r="0.9" stroke="none" fill="#333"/>
<circle cx="358.4" cy="179" r="0.9" stroke="none" fill="#333"/>
<circle cx="358.4" cy="195.3" r="0.9" stroke="none" fill="#333"/>
<text transform="translate(357 127) rotate(-90)" y="1.5" font-size="11.5" text-anchor="middle" fill="#5c5c5c" stroke="none">1800</text>
<text transform="translate(357 187.5) rotate(-90)" y="1.5" font-size="11.5" text-anchor="middle" fill="#5c5c5c" stroke="none">275</text>
<line x1="336.2" y1="123.3" x2="476" y2="123.3"/>
<circle cx="336.2" cy="123.3" r="0.9" stroke="none" fill="#333"/>
<circle cx="388.4" cy="123.3" r="0.9" stroke="none" fill="#333"/>
<circle cx="444.4" cy="123.3" r="0.9" stroke="none" fill="#333"/>
<circle cx="476" cy="123.3" r="0.9" stroke="none" fill="#333"/>
<text x="363.5" y="123.4" font-size="11.5" text-anchor="middle" fill="#5c5c5c" stroke="none">900</text>
<text x="416.3" y="123.4" font-size="11.5" text-anchor="middle" fill="#5c5c5c" stroke="none">957</text>
<text x="460.8" y="123.4" font-size="11.5" text-anchor="middle" fill="#5c5c5c" stroke="none">550</text>
<line x1="476.2" y1="52" x2="476.2" y2="85"/>
<line x1="480.4" y1="52" x2="480.4" y2="83"/>
<line x1="485" y1="52" x2="485" y2="83"/>
<line x1="489.5" y1="52" x2="489.5" y2="85"/>
<line x1="476.2" y1="83" x2="489.5" y2="83"/>
<rect x="460.8" y="62.7" width="15" height="22.2" rx="2"/>
<path d="M460.8 63 L455 63 A21.7 11 0 0 0 455 85 L460.8 85"/>
<path d="M460.8 64 Q458.6 74 460.8 84"/>
<path d="M463.4 64 Q461.2 74 463.4 84"/>
<circle cx="470.2" cy="74" r="1" fill="#444"/>
<line x1="452.3" y1="52" x2="452.3" y2="195.3"/>
<circle cx="452.3" cy="52" r="0.9" stroke="none" fill="#333"/>
<circle cx="452.3" cy="84.9" r="0.9" stroke="none" fill="#333"/>
<circle cx="452.3" cy="98" r="0.9" stroke="none" fill="#333"/>
<circle cx="452.3" cy="183" r="0.9" stroke="none" fill="#333"/>
<circle cx="452.3" cy="195.3" r="0.9" stroke="none" fill="#333"/>
<text transform="translate(451 76.4) rotate(-90)" y="1.5" font-size="11.5" text-anchor="middle" fill="#5c5c5c" stroke="none">800</text>
<text transform="translate(451 139) rotate(-90)" y="1.5" font-size="11.5" text-anchor="middle" fill="#5c5c5c" stroke="none">1475</text>
<text transform="translate(451 190) rotate(-90)" y="1.5" font-size="10.5" text-anchor="middle" fill="#5c5c5c" stroke="none">200</text>
<path d="M476 98 L444.4 98 L444.4 195.3"/>
<line x1="444.4" y1="183" x2="476" y2="183"/>
<circle cx="460.8" cy="120.2" r="11.1"/>
<circle cx="460.8" cy="120.2" r="9.9" stroke="#666" stroke-width="0.5"/>
<circle cx="460.8" cy="120.2" r="1.1"/>
<line x1="468.68" y1="113.11" x2="473.88" y2="108.42"/>
<path d="M468.68 113.11 L470 109.87 L472.04 112.13 Z" fill="#333"/>
<circle cx="460.8" cy="160.4" r="11.1"/>
<circle cx="460.8" cy="160.4" r="9.9" stroke="#666" stroke-width="0.5"/>
<circle cx="460.8" cy="160.4" r="1.1"/>
<line x1="468.68" y1="167.49" x2="473.88" y2="172.18"/>
<path d="M468.68 167.49 L472.04 168.47 L470 170.73 Z" fill="#333"/>
<circle cx="458.6" cy="188.8" r="2.3"/>
<circle cx="468" cy="188.8" r="2.3"/>
<circle cx="458.6" cy="188.8" r="0.8"/>
<circle cx="468" cy="188.8" r="0.8"/>
<line x1="395.5" y1="151.8" x2="395.5" y2="195.3"/>
<line x1="397.9" y1="151.8" x2="397.9" y2="195.3"/>
<line x1="395.5" y1="151.8" x2="397.9" y2="151.8"/>
<path d="M395.5 151.8 A43.7 43.7 0 0 1 439.6 195.3"/>
<line x1="395.3" y1="195.3" x2="395.3" y2="202.2" stroke="#222" stroke-width="1.0"/>
<path d="M395.3 195.3 q-0.8 -2.6 -3.2 -2.2 q-1.4 0.4 -1.5 2" stroke="#555" stroke-width="0.6"/>
<path d="M395.3 202.2 q-0.8 2.6 -3 2.2 q-1.2 -0.3 -1.4 -1.6" stroke="#777" stroke-width="0.6"/>
<line x1="439.6" y1="195.3" x2="439.6" y2="202.2" stroke="#222" stroke-width="1.0"/>
<path d="M439.6 195.3 q0.8 -2.6 3.2 -2.2 q1.4 0.4 1.5 2" stroke="#555" stroke-width="0.6"/>
<path d="M439.6 202.2 q0.8 2.6 3 2.2 q1.2 -0.3 1.4 -1.6" stroke="#777" stroke-width="0.6"/>
<text x="405" y="99.66" font-size="15.52" font-family="Liberation Sans, Noto Sans CJK SC, sans-serif" fill="#2a2a2a" stroke="none">主卫</text>
<path d="M495.6 135.4 L549 135.4"/>
<line x1="538" y1="105.4" x2="538" y2="135.4"/>
<line x1="495.6" y1="118.1" x2="538" y2="118.1"/>
<line x1="519.5" y1="105.4" x2="519.5" y2="118.1"/>
<line x1="519.5" y1="118.1" x2="538" y2="105.4"/>
<circle cx="505.2" cy="113.7" r="2.6"/>
<circle cx="514.1" cy="113.7" r="2.6"/>
<path d="M543.2 98.2 L543.2 129.5 L553.5 129.5 L553.5 134.4"/>
<line x1="549.1" y1="135.4" x2="549.1" y2="195.3"/>
<line x1="550.9" y1="135.4" x2="550.9" y2="195.3"/>
<line x1="553.5" y1="134.4" x2="553.5" y2="195.3"/>
<clipPath id="mc"><rect x="501.1" y="141.3" width="42.1" height="48.3"/></clipPath>
<path clip-path="url(#mc)" d="M451.1 141.3L499.4 189.6M499.4 141.3L451.1 189.6M453.2 141.3L501.5 189.6M501.5 141.3L453.2 189.6M455.3 141.3L503.6 189.6M503.6 141.3L455.3 189.6M457.4 141.3L505.7 189.6M505.7 141.3L457.4 189.6M459.5 141.3L507.8 189.6M507.8 141.3L459.5 189.6M461.6 141.3L509.9 189.6M509.9 141.3L461.6 189.6M463.7 141.3L512 189.6M512 141.3L463.7 189.6M465.8 141.3L514.1 189.6M514.1 141.3L465.8 189.6M467.9 141.3L516.2 189.6M516.2 141.3L467.9 189.6M470 141.3L518.3 189.6M518.3 141.3L470 189.6M472.1 141.3L520.4 189.6M520.4 141.3L472.1 189.6M474.2 141.3L522.5 189.6M522.5 141.3L474.2 189.6M476.3 141.3L524.6 189.6M524.6 141.3L476.3 189.6M478.4 141.3L526.7 189.6M526.7 141.3L478.4 189.6M480.5 141.3L528.8 189.6M528.8 141.3L480.5 189.6M482.6 141.3L530.9 189.6M530.9 141.3L482.6 189.6M484.7 141.3L533 189.6M533 141.3L484.7 189.6M486.8 141.3L535.1 189.6M535.1 141.3L486.8 189.6M488.9 141.3L537.2 189.6M537.2 141.3L488.9 189.6M491 141.3L539.3 189.6M539.3 141.3L491 189.6M493.1 141.3L541.4 189.6M541.4 141.3L493.1 189.6M495.2 141.3L543.5 189.6M543.5 141.3L495.2 189.6M497.3 141.3L545.6 189.6M545.6 141.3L497.3 189.6M499.4 141.3L547.7 189.6M547.7 141.3L499.4 189.6M501.5 141.3L549.8 189.6M549.8 141.3L501.5 189.6M503.6 141.3L551.9 189.6M551.9 141.3L503.6 189.6M505.7 141.3L554 189.6M554 141.3L505.7 189.6M507.8 141.3L556.1 189.6M556.1 141.3L507.8 189.6M509.9 141.3L558.2 189.6M558.2 141.3L509.9 189.6M512 141.3L560.3 189.6M560.3 141.3L512 189.6M514.1 141.3L562.4 189.6M562.4 141.3L514.1 189.6M516.2 141.3L564.5 189.6M564.5 141.3L516.2 189.6M518.3 141.3L566.6 189.6M566.6 141.3L518.3 189.6M520.4 141.3L568.7 189.6M568.7 141.3L520.4 189.6M522.5 141.3L570.8 189.6M570.8 141.3L522.5 189.6M524.6 141.3L572.9 189.6M572.9 141.3L524.6 189.6M526.7 141.3L575 189.6M575 141.3L526.7 189.6M528.8 141.3L577.1 189.6M577.1 141.3L528.8 189.6M530.9 141.3L579.2 189.6M579.2 141.3L530.9 189.6M533 141.3L581.3 189.6M581.3 141.3L533 189.6M535.1 141.3L583.4 189.6M583.4 141.3L535.1 189.6M537.2 141.3L585.5 189.6M585.5 141.3L537.2 189.6M539.3 141.3L587.6 189.6M587.6 141.3L539.3 189.6M541.4 141.3L589.7 189.6M589.7 141.3L541.4 189.6M543.5 141.3L591.8 189.6M591.8 141.3L543.5 189.6M545.6 141.3L593.9 189.6M593.9 141.3L545.6 189.6M547.7 141.3L596 189.6M596 141.3L547.7 189.6M549.8 141.3L598.1 189.6M598.1 141.3L549.8 189.6M551.9 141.3L600.2 189.6M600.2 141.3L551.9 189.6M554 141.3L602.3 189.6M602.3 141.3L554 189.6M556.1 141.3L604.4 189.6M604.4 141.3L556.1 189.6M558.2 141.3L606.5 189.6M606.5 141.3L558.2 189.6M560.3 141.3L608.6 189.6M608.6 141.3L560.3 189.6M562.4 141.3L610.7 189.6M610.7 141.3L562.4 189.6M564.5 141.3L612.8 189.6M612.8 141.3L564.5 189.6M566.6 141.3L614.9 189.6M614.9 141.3L566.6 189.6M568.7 141.3L617 189.6M617 141.3L568.7 189.6M570.8 141.3L619.1 189.6M619.1 141.3L570.8 189.6M572.9 141.3L621.2 189.6M621.2 141.3L572.9 189.6M575 141.3L623.3 189.6M623.3 141.3L575 189.6M577.1 141.3L625.4 189.6M625.4 141.3L577.1 189.6M579.2 141.3L627.5 189.6M627.5 141.3L579.2 189.6M581.3 141.3L629.6 189.6M629.6 141.3L581.3 189.6M583.4 141.3L631.7 189.6M631.7 141.3L583.4 189.6M585.5 141.3L633.8 189.6M633.8 141.3L585.5 189.6M587.6 141.3L635.9 189.6M635.9 141.3L587.6 189.6M589.7 141.3L638 189.6M638 141.3L589.7 189.6M591.8 141.3L640.1 189.6M640.1 141.3L591.8 189.6" stroke="#2a2a2a" stroke-width="0.4"/>
<rect x="501.1" y="141.3" width="42.1" height="48.3" stroke="#333" stroke-width="0.8"/>
<line x1="495.6" y1="155" x2="549" y2="155" stroke="#555"/>
<text x="521.8" y="154.4" font-size="10.5" text-anchor="middle" fill="#ccc" stroke="none">910</text>
<path d="M516.5 156 Q517 172 521.8 180 Q526.5 172 527 156" stroke="#ccc" stroke-width="0.8"/>
<path d="M499 167 L504 174" stroke="#666"/>
<path d="M546 167 L541 174" stroke="#666"/>
<path d="M521.8 187.5 l-3 4 h6 Z" fill="#333"/>
<line x1="516" y1="193.5" x2="528" y2="193.5" stroke-width="1.2"/>
<line x1="517" y1="192" x2="527" y2="192" stroke-width="0.6"/>
<line x1="543.2" y1="84.4" x2="646.6" y2="84.4"/>
<line x1="543.2" y1="98.2" x2="646.6" y2="98.2"/>
<line x1="543.2" y1="88.9" x2="586.8" y2="88.9"/>
<line x1="543.2" y1="93.6" x2="586.8" y2="93.6"/>
<line x1="586.8" y1="84.4" x2="586.8" y2="98.2"/>
<line x1="646.6" y1="105.4" x2="646.6" y2="202.2"/>
<line x1="652.5" y1="105.4" x2="652.5" y2="195.3"/>
<rect x="567.5" y="98.5" width="22.2" height="12.5" rx="1.5"/>
<path d="M568.3 111 L568.3 125 Q568.3 140.3 578.5 140.3 Q588.7 140.3 588.7 125 L588.7 111"/>
<path d="M568.3 112 Q578.5 108.6 588.7 112"/>
<path d="M568.3 114 Q578.5 110.6 588.7 114"/>
<circle cx="578.6" cy="103.3" r="1" fill="#444"/>
<line x1="614.8" y1="98.2" x2="614.8" y2="195.3"/>
<circle cx="630.6" cy="122.5" r="11.1"/>
<circle cx="630.6" cy="122.5" r="9.9" stroke="#666" stroke-width="0.5"/>
<circle cx="630.6" cy="122.5" r="1.1"/>
<line x1="638.48" y1="115.41" x2="643.68" y2="110.72"/>
<path d="M638.48 115.41 L639.8 112.17 L641.84 114.43 Z" fill="#333"/>
<circle cx="630.6" cy="170.4" r="11.1"/>
<circle cx="630.6" cy="170.4" r="9.9" stroke="#666" stroke-width="0.5"/>
<circle cx="630.6" cy="170.4" r="1.1"/>
<line x1="638.48" y1="177.49" x2="643.68" y2="182.18"/>
<path d="M638.48 177.49 L641.84 178.47 L639.8 180.73 Z" fill="#333"/>
<line x1="553.5" y1="134.4" x2="652.5" y2="134.4"/>
<circle cx="553.5" cy="134.4" r="0.9" stroke="none" fill="#333"/>
<circle cx="614.8" cy="134.4" r="0.9" stroke="none" fill="#333"/>
<circle cx="652.5" cy="134.4" r="0.9" stroke="none" fill="#333"/>
<text x="583.8" y="134.9" font-size="11.5" text-anchor="middle" fill="#5c5c5c" stroke="none">1065</text>
<text x="630.3" y="134.9" font-size="11.5" text-anchor="middle" fill="#5c5c5c" stroke="none">550</text>
<line x1="606" y1="151.6" x2="606" y2="195.3"/>
<line x1="608.6" y1="151.6" x2="608.6" y2="195.3"/>
<line x1="606" y1="151.6" x2="608.6" y2="151.6"/>
<path d="M606 151.6 A43.7 43.7 0 0 0 565.6 195.3"/>
<line x1="565.4" y1="195.3" x2="565.4" y2="202.2" stroke="#222" stroke-width="1.0"/>
<path d="M565.4 195.3 q-0.8 -2.6 -3.2 -2.2 q-1.4 0.4 -1.5 2" stroke="#555" stroke-width="0.6"/>
<path d="M565.4 202.2 q-0.8 2.6 -3 2.2 q-1.2 -0.3 -1.4 -1.6" stroke="#777" stroke-width="0.6"/>
<line x1="609" y1="195.3" x2="609" y2="202.2" stroke="#222" stroke-width="1.0"/>
<path d="M609 195.3 q0.8 -2.6 3.2 -2.2 q1.4 0.4 1.5 2" stroke="#555" stroke-width="0.6"/>
<path d="M609 202.2 q0.8 2.6 3 2.2 q1.2 -0.3 1.4 -1.6" stroke="#777" stroke-width="0.6"/>
<text x="564.5" y="156.01" font-size="15.01" font-family="Liberation Sans, Noto Sans CJK SC, sans-serif" fill="#2a2a2a" stroke="none">客卫</text>
<line x1="647" y1="105.4" x2="647" y2="202.2"/>
<line x1="654.3" y1="105.4" x2="654.3" y2="259.6"/>
<line x1="654.3" y1="194.4" x2="689.3" y2="194.4"/>
<line x1="689.3" y1="104.9" x2="689.3" y2="194.4"/>
<line x1="680.8" y1="104.9" x2="680.8" y2="194.4"/>
<line x1="654.3" y1="150.7" x2="689.3" y2="150.7"/>
<line x1="654.3" y1="150.7" x2="689.3" y2="104.9" stroke="#777" stroke-width="0.6"/>
<line x1="654.3" y1="194.4" x2="689.3" y2="150.7" stroke="#777" stroke-width="0.6"/>
<line x1="654.3" y1="177.1" x2="847.8" y2="177.1"/>
<circle cx="654.3" cy="177.1" r="0.9" stroke="none" fill="#333"/>
<circle cx="689.3" cy="177.1" r="0.9" stroke="none" fill="#333"/>
<circle cx="724.5" cy="177.1" r="0.9" stroke="none" fill="#333"/>
<circle cx="810.6" cy="177.1" r="0.9" stroke="none" fill="#333"/>
<circle cx="847.8" cy="177.1" r="0.9" stroke="none" fill="#333"/>
<text x="671.8" y="177.2" font-size="11.5" text-anchor="middle" fill="#5c5c5c" stroke="none">600</text>
<text x="706.6" y="177.2" font-size="11.5" text-anchor="middle" fill="#5c5c5c" stroke="none">609</text>
<text x="767.8" y="177.2" font-size="11.5" text-anchor="middle" fill="#5c5c5c" stroke="none">1500</text>
<text x="829.9" y="177.2" font-size="11.5" text-anchor="middle" fill="#5c5c5c" stroke="none">621</text>
<text transform="translate(677 150.7) rotate(-90)" y="1.5" font-size="11.5" text-anchor="middle" fill="#5c5c5c" stroke="none">1545</text>
<rect x="698" y="104.9" width="26.5" height="26.9"/>
<circle cx="711.6" cy="118.9" r="5.6"/>
<circle cx="711.6" cy="118.9" r="2.8"/>
<line x1="703" y1="118.9" x2="720.2" y2="118.9"/>
<line x1="711.6" y1="110.3" x2="711.6" y2="127.5"/>
<rect x="811.4" y="104.9" width="26.4" height="26.9"/>
<circle cx="823.9" cy="118.9" r="5.6"/>
<circle cx="823.9" cy="118.9" r="2.8"/>
<line x1="815.3" y1="118.9" x2="832.5" y2="118.9"/>
<line x1="823.9" y1="110.3" x2="823.9" y2="127.5"/>
<path d="M724.5 104.9 L724.5 221.2 L810.6 221.2 L810.6 104.9"/>
<line x1="809.4" y1="134.8" x2="809.4" y2="221.2"/>
<line x1="741.8" y1="104.9" x2="741.8" y2="259.6"/>
<circle cx="741.8" cy="104.9" r="0.9" stroke="none" fill="#333"/>
<circle cx="741.8" cy="221.2" r="0.9" stroke="none" fill="#333"/>
<circle cx="741.8" cy="259.6" r="0.9" stroke="none" fill="#333"/>
<text transform="translate(740.5 163.6) rotate(-90)" y="1.5" font-size="11.5" text-anchor="middle" fill="#5c5c5c" stroke="none">2000</text>
<text transform="translate(740.5 240) rotate(-90)" y="1.5" font-size="11.5" text-anchor="middle" fill="#5c5c5c" stroke="none">655</text>
<path d="M728.9 110.9 Q747.25 112.2 765.6 110.9 Q764.3 121.85 765.6 132.8 Q747.25 131.5 728.9 132.8 Q730.2 121.85 728.9 110.9 Z"/>
<path d="M770.2 110.9 Q788.6 112.2 807 110.9 Q805.7 121.85 807 132.8 Q788.6 131.5 770.2 132.8 Q771.5 121.85 770.2 110.9 Z"/>
<path d="M748 131.5 Q755 129 760 132.5"/>
<path d="M772 133 Q780 128 788 131"/>
<path d="M796 130 Q801 131 805 133"/>
<line x1="761.7" y1="134.8" x2="810" y2="134.8"/>
<line x1="759.3" y1="149" x2="809.4" y2="149"/>
<path d="M725.9 158.6 L761.7 134.8"/>
<path d="M761.7 134.8 Q757 146 758.3 158.2 L739.4 152.7"/>
<g transform="rotate(17.6 772.5 199.5)">
<path d="M761.5 188.5 Q772.5 190 783.5 188.5 Q782 199.5 783.5 210.5 Q772.5 209 761.5 210.5 Q763 199.5 761.5 188.5 Z" fill="#fff"/>
<path d="M765.9 190.7 Q771.4 194 773.6 198.4"/>
<path d="M778 191.8 Q774.7 195.1 773.6 198.4"/>
</g>
<g transform="rotate(28 793.6 200.9)">
<path d="M781.85 189.15 Q793.6 190.65 805.35 189.15 Q803.85 200.9 805.35 212.65 Q793.6 211.15 781.85 212.65 Q783.35 200.9 781.85 189.15 Z" fill="#fff"/>
<path d="M786.55 191.5 Q792.43 195.03 794.77 199.72"/>
<path d="M799.48 192.68 Q795.95 196.2 794.77 199.72"/>
</g>
<line x1="838.2" y1="104.9" x2="838.2" y2="259.6" stroke-dasharray="5 2.5"/>
<path d="M843.2 110.9 C845.93 111.29 845.93 113.09 843.2 113.48 C840.47 113.87 840.47 115.67 843.2 116.06 C845.93 116.45 845.93 118.25 843.2 118.64 C840.47 119.03 840.47 120.83 843.2 121.22 C845.93 121.61 845.93 123.41 843.2 123.8 C840.47 124.19 840.47 125.99 843.2 126.38 C845.93 126.77 845.93 128.57 843.2 128.96 C840.47 129.35 840.47 131.15 843.2 131.54 C845.93 131.93 845.93 133.73 843.2 134.12 C840.47 134.51 840.47 136.31 843.2 136.7" stroke="#3a3a3a" stroke-width="0.9"/>
<line x1="843.2" y1="136.7" x2="843.2" y2="158.6" stroke="#3a3a3a" stroke-width="0.9"/>
<line x1="843.2" y1="153.1" x2="843.2" y2="158.6" stroke="#111" stroke-width="1.8"/>
<line x1="843.2" y1="226.2" x2="843.2" y2="205.3" stroke="#3a3a3a" stroke-width="0.9"/>
<line x1="843.2" y1="210.8" x2="843.2" y2="205.3" stroke="#111" stroke-width="1.8"/>
<path d="M843.2 226.2 C845.93 226.62 845.93 228.56 843.2 228.98 C840.47 229.4 840.47 231.34 843.2 231.76 C845.93 232.18 845.93 234.12 843.2 234.54 C840.47 234.96 840.47 236.9 843.2 237.32 C845.93 237.74 845.93 239.68 843.2 240.1 C840.47 240.52 840.47 242.46 843.2 242.88 C845.93 243.3 845.93 245.24 843.2 245.66 C840.47 246.08 840.47 248.02 843.2 248.44 C845.93 248.86 845.93 250.8 843.2 251.22 C840.47 251.64 840.47 253.58 843.2 254" stroke="#3a3a3a" stroke-width="0.9"/>
<line x1="847.8" y1="137.8" x2="847.8" y2="222.8"/>
<line x1="854.7" y1="137.8" x2="854.7" y2="222.8"/>
<line x1="858.7" y1="137.8" x2="858.7" y2="222.8"/>
<line x1="862.7" y1="137.8" x2="862.7" y2="222.8"/>
<line x1="866.6" y1="137.8" x2="866.6" y2="222.8"/>
<line x1="869" y1="137.8" x2="869" y2="222.8"/>
<line x1="654.3" y1="253" x2="700.6" y2="253"/>
<line x1="654.3" y1="255.2" x2="700.6" y2="255.2"/>
<line x1="700.6" y1="253" x2="700.6" y2="255.2"/>
<path d="M700.6 253 A46 46 0 0 0 654.3 208.3"/>
<line x1="647" y1="205.3" x2="654.3" y2="205.3" stroke="#222" stroke-width="1.0"/>
<path d="M647 205.3 q-2.6 -0.8 -2.2 -3.2 q0.4 -1.4 2 -1.5" stroke="#555" stroke-width="0.6"/>
<path d="M654.3 205.3 q2.6 -0.8 2.2 -3 q-0.3 -1.2 -1.6 -1.4" stroke="#777" stroke-width="0.6"/>
<line x1="647" y1="256.5" x2="654.3" y2="256.5" stroke="#222" stroke-width="1.0"/>
<path d="M647 256.5 q-2.6 0.8 -2.2 3.2 q0.4 1.4 2 1.5" stroke="#555" stroke-width="0.6"/>
<path d="M654.3 256.5 q2.6 0.8 2.2 3 q-0.3 1.2 -1.6 1.4" stroke="#777" stroke-width="0.6"/>
<text x="758.5" y="244.66" font-size="15.52" font-family="Liberation Sans, Noto Sans CJK SC, sans-serif" fill="#2a2a2a" stroke="none">客房</text>
<line x1="167.1" y1="295.9" x2="339.1" y2="295.9"/>
<line x1="167.1" y1="295.9" x2="210.1" y2="278.9" stroke="#666" stroke-width="0.7"/>
<line x1="210.1" y1="295.9" x2="253.2" y2="278.9" stroke="#666" stroke-width="0.7"/>
<line x1="253.2" y1="295.9" x2="297.1" y2="278.9" stroke="#666" stroke-width="0.7"/>
<line x1="297.1" y1="295.9" x2="339.1" y2="278.9" stroke="#666" stroke-width="0.7"/>
<line x1="210.1" y1="278.9" x2="210.1" y2="295.9"/>
<line x1="253.2" y1="278.9" x2="253.2" y2="295.9"/>
<line x1="297.1" y1="278.9" x2="297.1" y2="295.9"/>
<path d="M345.4 259.6 L381.2 259.6 L381.2 381.2 L339.1 381.2 L339.1 295.9"/>
<line x1="346.1" y1="266.5" x2="381.2" y2="266.5"/>
<line x1="346.1" y1="278.9" x2="346.1" y2="373.6"/>
<line x1="346.1" y1="373.6" x2="381.2" y2="373.6"/>
<line x1="346.1" y1="319.6" x2="381.2" y2="319.6"/>
<line x1="346.1" y1="319.6" x2="381.2" y2="266.5"/>
<line x1="346.1" y1="373.6" x2="381.2" y2="319.6"/>
<line x1="293.8" y1="278.9" x2="293.8" y2="447.4"/>
<circle cx="293.8" cy="278.9" r="0.9" stroke="none" fill="#333"/>
<circle cx="293.8" cy="295.9" r="0.9" stroke="none" fill="#333"/>
<circle cx="293.8" cy="345.1" r="0.9" stroke="none" fill="#333"/>
<circle cx="293.8" cy="385.5" r="0.9" stroke="none" fill="#333"/>
<circle cx="293.8" cy="447.4" r="0.9" stroke="none" fill="#333"/>
<text transform="translate(292.5 287.3) rotate(-90)" y="1.5" font-size="10.5" text-anchor="middle" fill="#5c5c5c" stroke="none">300</text>
<text transform="translate(292.5 320.7) rotate(-90)" y="1.5" font-size="11.5" text-anchor="middle" fill="#5c5c5c" stroke="none">850</text>
<text transform="translate(292.5 365) rotate(-90)" y="1.5" font-size="11.5" text-anchor="middle" fill="#5c5c5c" stroke="none">700</text>
<text transform="translate(292.5 416.8) rotate(-90)" y="1.5" font-size="11.5" text-anchor="middle" fill="#5c5c5c" stroke="none">1065</text>
<path d="M230.2 338.8 L230.2 323 C230.2 312 238 304.1 247.8 304.1 C257.5 304.1 265.5 312 265.5 323 L265.5 338.8"/>
<path d="M230.2 338.8 Q239 336.3 247.8 337.8 Q256.5 336.3 265.5 338.8"/>
<path d="M233.4 337.8 L233.6 323 Q234.5 312.5 241 307" stroke="#444" stroke-width="1.0"/>
<path d="M262.3 337.8 L262 323 Q261 312.5 254.6 307" stroke="#444" stroke-width="1.0"/>
<path d="M237 311.3 Q242.5 314 247.8 312 Q253 314 258.6 311.3" stroke-width="0.7"/>
<rect x="198.9" y="345.1" width="98.8" height="40.4"/>
<line x1="198.9" y1="356.3" x2="297.7" y2="356.3"/>
<text x="248.5" y="356.9" font-size="11.5" text-anchor="middle" fill="#777" stroke="none">1700</text>
<line x1="246.8" y1="359.3" x2="252" y2="350.5" stroke="#222" stroke-width="1.3"/>
<circle cx="252.7" cy="346" r="1.2" stroke-width="0.6"/>
<circle cx="246.5" cy="359.6" r="0.9" fill="#222"/>
<circle cx="279.4" cy="377.3" r="3"/>
<circle cx="279.4" cy="377.3" r="1.2"/>
<line x1="273.5" y1="377.3" x2="285.3" y2="377.3"/>
<line x1="279.4" y1="371.4" x2="279.4" y2="383.2"/>
<circle cx="60.7" cy="367.3" r="12.7"/>
<circle cx="60.7" cy="367.3" r="4.6"/>
<circle cx="60.7" cy="367.3" r="2.2"/>
<line x1="55" y1="361.6" x2="66.4" y2="373"/>
<line x1="55" y1="373" x2="66.4" y2="361.6"/>
<path d="M94.4 370.2 L109.8 359.6 L128.6 385.7 L112.4 397 Z"/>
<g transform="translate(75.1 403.2) rotate(-35.4) scale(1.0)">
<path d="M18.5 -19.6 Q9 -19.4 -6.7 -17.7 Q-13 -16.8 -16.5 -14.2 Q-20.5 -10.5 -21 0 Q-20.5 10.5 -16.5 14.2 Q-13 16.8 -6.7 17.4 Q9 19.2 18.5 19.9"/>
<path d="M18.5 -19.6 Q21 -19.8 21.25 -17.3 L21.25 18.1 Q21 20.2 18.5 19.9"/>
<path d="M17.6 -17.6 Q11 -15 4.9 -13.2 Q-2 -12 -5.6 -10.6 Q-9.8 -8 -9.8 0 Q-9.8 8 -5.6 10.2 Q-2 12 4.9 13.4 Q11 15 17.6 17.6"/>
<path d="M-6.7 -17.7 Q-1 -14.8 4.9 -13.2 M-6.7 17.4 Q-1 15 4.9 13.4"/>
<path d="M-17.8 -13.4 Q-12 -11.5 -6 -10.4 M-17.8 13.4 Q-12 11.5 -6 10.2"/>
<path d="M-21 -0.3 L21.25 -0.3"/>
<circle cx="19.2" cy="-18.3" r="1.3" stroke-width="0.6"/>
<circle cx="19.2" cy="18.6" r="1.3" stroke-width="0.6"/>
</g>
<line x1="45.8" y1="424.4" x2="147.6" y2="424.4"/>
<line x1="45.8" y1="430.1" x2="147.6" y2="430.1"/>
<line x1="97.1" y1="430.1" x2="97.1" y2="448.7"/>
<line x1="105.7" y1="430.1" x2="105.7" y2="448.7"/>
<line x1="45.8" y1="448.7" x2="97.1" y2="430.1"/>
<line x1="105.7" y1="448.7" x2="147.6" y2="430.1"/>
<line x1="45.8" y1="428" x2="45.8" y2="448.7"/>
<line x1="35.2" y1="435.3" x2="45.8" y2="435.3"/>
<circle cx="43.3" cy="440" r="2.2"/>
<circle cx="45.8" cy="424.4" r="0.9" stroke="none" fill="#333"/>
<circle cx="147.6" cy="424.4" r="0.9" stroke="none" fill="#333"/>
<circle cx="105.7" cy="430.1" r="0.9" stroke="none" fill="#333"/>
<circle cx="105.7" cy="448.7" r="0.9" stroke="none" fill="#333"/>
<text x="97.1" y="424.5" font-size="11.5" text-anchor="middle" fill="#5c5c5c" stroke="none">1755</text>
<text transform="translate(103.6 439.5) rotate(-90)" y="1.5" font-size="10" text-anchor="middle" fill="#5c5c5c" stroke="none">325</text>
<text x="140.5" y="358.16" font-size="15.52" font-family="Liberation Sans, Noto Sans CJK SC, sans-serif" fill="#2a2a2a" stroke="none">书房</text>
<line x1="447.4" y1="202.3" x2="447.4" y2="279.4"/>
<line x1="447.4" y1="202.3" x2="482.4" y2="202.3"/>
<line x1="482.4" y1="202.3" x2="482.4" y2="546"/>
<line x1="489" y1="202.3" x2="489" y2="546"/>
<line x1="447.4" y1="237.6" x2="482.4" y2="237.6"/>
<line x1="447.4" y1="272.8" x2="482.4" y2="272.8"/>
<line x1="447.4" y1="279.4" x2="482.4" y2="279.4"/>
<line x1="447.4" y1="237.6" x2="482.4" y2="202.3"/>
<line x1="447.4" y1="272.8" x2="482.4" y2="237.6"/>
<line x1="447.4" y1="285.1" x2="482.4" y2="285.1"/>
<line x1="447.4" y1="287.1" x2="482.4" y2="287.1"/>
<line x1="447.4" y1="285.1" x2="447.4" y2="287.1"/>
<path d="M447.4 287.1 A34 34 0 0 0 482.4 319.9"/>
<line x1="447.4" y1="352.6" x2="482.4" y2="352.6"/>
<line x1="447.4" y1="354.6" x2="482.4" y2="354.6"/>
<line x1="447.4" y1="352.6" x2="447.4" y2="354.6"/>
<path d="M447.4 352.6 A34 34 0 0 1 482.4 319.9"/>
<line x1="482.4" y1="282.5" x2="489" y2="282.5" stroke="#222" stroke-width="1.0"/>
<path d="M482.4 282.5 q-2.6 -0.8 -2.2 -3.2 q0.4 -1.4 2 -1.5" stroke="#555" stroke-width="0.6"/>
<path d="M489 282.5 q2.6 -0.8 2.2 -3 q-0.3 -1.2 -1.6 -1.4" stroke="#777" stroke-width="0.6"/>
<line x1="482.4" y1="357.3" x2="489" y2="357.3" stroke="#222" stroke-width="1.0"/>
<path d="M482.4 357.3 q-2.6 0.8 -2.2 3.2 q0.4 1.4 2 1.5" stroke="#555" stroke-width="0.6"/>
<path d="M489 357.3 q2.6 0.8 2.2 3 q-0.3 1.2 -1.6 1.4" stroke="#777" stroke-width="0.6"/>
<line x1="447.4" y1="360.2" x2="447.4" y2="447.5"/>
<line x1="447.4" y1="360.2" x2="482.4" y2="360.2"/>
<line x1="447.4" y1="366" x2="482.4" y2="366"/>
<line x1="447.4" y1="406.9" x2="482.4" y2="406.9"/>
<line x1="447.4" y1="406.9" x2="482.4" y2="366"/>
<line x1="447.4" y1="447.5" x2="482.4" y2="406.9"/>
<line x1="309.4" y1="447.7" x2="482.4" y2="447.7"/>
<line x1="309.4" y1="454.2" x2="482.4" y2="454.2"/>
<line x1="309.4" y1="454.2" x2="309.4" y2="489.7"/>
<line x1="177" y1="489.7" x2="482.4" y2="489.7"/>
<line x1="177" y1="467.3" x2="177" y2="489.7"/>
<line x1="214" y1="467.3" x2="214" y2="489.7"/>
<line x1="262.3" y1="467.3" x2="262.3" y2="489.7"/>
<line x1="272.2" y1="467.3" x2="272.2" y2="489.7"/>
<line x1="177" y1="489.7" x2="214" y2="467.3"/>
<line x1="214" y1="489.7" x2="262.3" y2="467.3"/>
<line x1="272.2" y1="489.7" x2="309.4" y2="467.3"/>
<line x1="367" y1="454.2" x2="367" y2="489.7"/>
<line x1="376.3" y1="454.2" x2="376.3" y2="489.7"/>
<line x1="424.6" y1="454.2" x2="424.6" y2="489.7"/>
<line x1="309.4" y1="489.7" x2="367" y2="454.2"/>
<line x1="376.3" y1="489.7" x2="424.6" y2="454.2"/>
<line x1="424.6" y1="489.7" x2="482.4" y2="454.2"/>
<circle cx="272.2" cy="467.3" r="0.9" stroke="none" fill="#333"/>
<circle cx="272.2" cy="489.7" r="0.9" stroke="none" fill="#333"/>
<text transform="translate(271.5 478.5) rotate(-90)" y="1.5" font-size="10" text-anchor="middle" fill="#5c5c5c" stroke="none">380</text>
<circle cx="376.3" cy="454.2" r="0.9" stroke="none" fill="#333"/>
<circle cx="376.3" cy="489.7" r="0.9" stroke="none" fill="#333"/>
<text transform="translate(375.5 472) rotate(-90)" y="1.5" font-size="11.5" text-anchor="middle" fill="#5c5c5c" stroke="none">600</text>
<line x1="177" y1="498.2" x2="482.4" y2="498.2"/>
<circle cx="177" cy="498.2" r="0.9" stroke="none" fill="#333"/>
<circle cx="309.4" cy="498.2" r="0.9" stroke="none" fill="#333"/>
<circle cx="482.4" cy="498.2" r="0.9" stroke="none" fill="#333"/>
<line x1="309.4" y1="492" x2="309.4" y2="500.5"/>
<text x="243.8" y="498.4" font-size="11.5" text-anchor="middle" fill="#5c5c5c" stroke="none">2290</text>
<text x="396" y="498.4" font-size="11.5" text-anchor="middle" fill="#5c5c5c" stroke="none">2985</text>
<line x1="304.9" y1="489.7" x2="304.9" y2="657.3"/>
<circle cx="304.9" cy="489.7" r="0.9" stroke="none" fill="#333"/>
<circle cx="304.9" cy="541.7" r="0.9" stroke="none" fill="#333"/>
<circle cx="304.9" cy="657.3" r="0.9" stroke="none" fill="#333"/>
<text transform="translate(303.5 515.3) rotate(-90)" y="1.5" font-size="11.5" text-anchor="middle" fill="#5c5c5c" stroke="none">915</text>
<text transform="translate(303.5 600.5) rotate(-90)" y="1.5" font-size="11.5" text-anchor="middle" fill="#5c5c5c" stroke="none">2000</text>
<line x1="147.6" y1="521.8" x2="147.6" y2="606.3"/>
<line x1="152" y1="521.8" x2="152" y2="606.3"/>
<line x1="156.6" y1="521.8" x2="156.6" y2="606.3"/>
<line x1="161.2" y1="521.8" x2="161.2" y2="606.3"/>
<line x1="167.1" y1="521.8" x2="167.1" y2="606.3"/>
<line x1="168" y1="467.3" x2="168" y2="657.3"/>
<path d="M172.8 471.3 C175.53 471.7 175.53 473.59 172.8 473.99 C170.07 474.39 170.07 476.28 172.8 476.68 C175.53 477.08 175.53 478.97 172.8 479.37 C170.07 479.77 170.07 481.66 172.8 482.06 C175.53 482.46 175.53 484.35 172.8 484.75 C170.07 485.15 170.07 487.04 172.8 487.44 C175.53 487.84 175.53 489.73 172.8 490.13 C170.07 490.53 170.07 492.42 172.8 492.82 C175.53 493.22 175.53 495.11 172.8 495.51 C170.07 495.91 170.07 497.8 172.8 498.2" stroke="#3a3a3a" stroke-width="0.9"/>
<line x1="172.8" y1="498.2" x2="172.8" y2="519.5" stroke="#3a3a3a" stroke-width="0.9"/>
<line x1="172.8" y1="514" x2="172.8" y2="519.5" stroke="#111" stroke-width="1.8"/>
<line x1="177" y1="498.2" x2="177" y2="657.3" stroke-dasharray="5 2.5"/>
<line x1="172.8" y1="626" x2="172.8" y2="604.2" stroke="#3a3a3a" stroke-width="0.9"/>
<line x1="172.8" y1="609.7" x2="172.8" y2="604.2" stroke="#111" stroke-width="1.8"/>
<path d="M172.8 626 C175.53 626.38 175.53 628.12 172.8 628.5 C170.07 628.88 170.07 630.62 172.8 631 C175.53 631.38 175.53 633.12 172.8 633.5 C170.07 633.88 170.07 635.62 172.8 636 C175.53 636.38 175.53 638.12 172.8 638.5 C170.07 638.88 170.07 640.62 172.8 641 C175.53 641.38 175.53 643.12 172.8 643.5 C170.07 643.88 170.07 645.62 172.8 646 C175.53 646.38 175.53 648.12 172.8 648.5 C170.07 648.88 170.07 650.62 172.8 651 C175.53 651.38 175.53 653.12 172.8 653.5 C170.07 653.88 170.07 655.62 172.8 656" stroke="#3a3a3a" stroke-width="0.9"/>
<rect x="232.4" y="541.7" width="86.7" height="115.6"/>
<line x1="234" y1="541.7" x2="234" y2="657.3" stroke="#888"/>
<line x1="168" y1="586.3" x2="348.9" y2="586.3"/>
<circle cx="168" cy="586.3" r="0.9" stroke="none" fill="#333"/>
<circle cx="232.4" cy="586.3" r="0.9" stroke="none" fill="#333"/>
<circle cx="319.1" cy="586.3" r="0.9" stroke="none" fill="#333"/>
<circle cx="348.9" cy="586.3" r="0.9" stroke="none" fill="#333"/>
<text x="200.6" y="586.4" font-size="11.5" text-anchor="middle" fill="#5c5c5c" stroke="none">1103</text>
<text x="275.9" y="586.4" font-size="11.5" text-anchor="middle" fill="#5c5c5c" stroke="none">1500</text>
<text x="333.3" y="586.4" font-size="11.5" text-anchor="middle" fill="#5c5c5c" stroke="none">502</text>
<g transform="rotate(202.8 271.6 563.8)">
<path d="M260.1 552.3 Q271.6 553.8 283.1 552.3 Q281.6 563.8 283.1 575.3 Q271.6 573.8 260.1 575.3 Q261.6 563.8 260.1 552.3 Z" fill="#fff"/>
<path d="M264.7 554.6 Q270.45 558.05 272.75 562.65"/>
<path d="M277.35 555.75 Q273.9 559.2 272.75 562.65"/>
</g>
<g transform="rotate(201.4 249.9 562.9)">
<path d="M237.9 550.9 Q249.9 552.4 261.9 550.9 Q260.4 562.9 261.9 574.9 Q249.9 573.4 237.9 574.9 Q239.4 562.9 237.9 550.9 Z" fill="#fff"/>
<path d="M242.7 553.3 Q248.7 556.9 251.1 561.7"/>
<path d="M255.9 554.5 Q252.3 558.1 251.1 561.7"/>
</g>
<line x1="234.4" y1="613.9" x2="285" y2="613.9"/>
<line x1="234.4" y1="627.5" x2="283" y2="627.5"/>
<path d="M284.8 605.6 L317.3 604.4 L281.9 629.5"/>
<path d="M284.8 605.6 Q287.5 618 281.9 629.5"/>
<path d="M237.1 630.7 Q255.25 632 273.4 630.7 Q272.1 641.8 273.4 652.9 Q255.25 651.6 237.1 652.9 Q238.4 641.8 237.1 630.7 Z"/>
<path d="M278.2 630.7 Q296.5 632 314.8 630.7 Q313.5 641.8 314.8 652.9 Q296.5 651.6 278.2 652.9 Q279.5 641.8 278.2 630.7 Z"/>
<path d="M246 632 Q252 629.5 258 633"/>
<path d="M260 633 Q266 629.5 271 631.5"/>
<path d="M280 632 Q286 633 289 635.5"/>
<rect x="319.1" y="631.8" width="26.1" height="25.5"/>
<circle cx="331.9" cy="644" r="5.2"/>
<circle cx="331.9" cy="644" r="2.6"/>
<line x1="323.7" y1="644" x2="340.1" y2="644"/>
<line x1="331.9" y1="635.8" x2="331.9" y2="652.2"/>
<path d="M187.6 641.7 L187.6 612 Q187.6 609.9 190 609.9 L214.5 609.9 Q216.8 609.9 216.8 612 L216.8 641.7" stroke="#555"/>
<line x1="187.6" y1="641.7" x2="216.8" y2="641.7" stroke="#aaa"/>
<path d="M187.6 616 Q202 619 216.8 616" stroke="#555"/>
<line x1="177" y1="626" x2="232.4" y2="626"/>
<line x1="168" y1="657.3" x2="348.9" y2="657.3"/>
<line x1="199.8" y1="680" x2="475.3" y2="680"/>
<text x="253.8" y="522.16" font-size="15.52" font-family="Liberation Sans, Noto Sans CJK SC, sans-serif" fill="#2a2a2a" stroke="none">次卧</text>
<line x1="436.2" y1="494.8" x2="482.4" y2="494.8"/>
<line x1="436.2" y1="496.7" x2="482.4" y2="496.7"/>
<line x1="436.2" y1="494.8" x2="436.2" y2="496.7"/>
<path d="M436.2 496.7 A45.5 45.5 0 0 0 481 540.9"/>
<line x1="482.4" y1="492" x2="489" y2="492" stroke="#222" stroke-width="1.0"/>
<path d="M482.4 492 q-2.6 -0.8 -2.2 -3.2 q0.4 -1.4 2 -1.5" stroke="#555" stroke-width="0.6"/>
<path d="M489 492 q2.6 -0.8 2.2 -3 q-0.3 -1.2 -1.6 -1.4" stroke="#777" stroke-width="0.6"/>
<line x1="482.4" y1="543.3" x2="489" y2="543.3" stroke="#222" stroke-width="1.0"/>
<path d="M482.4 543.3 q-2.6 0.8 -2.2 3.2 q0.4 1.4 2 1.5" stroke="#555" stroke-width="0.6"/>
<path d="M489 543.3 q2.6 0.8 2.2 3 q-0.3 1.2 -1.6 1.4" stroke="#777" stroke-width="0.6"/>
<line x1="348.4" y1="546.9" x2="475.3" y2="546.9"/>
<line x1="348.4" y1="546.9" x2="348.4" y2="680"/>
<line x1="356.2" y1="553.5" x2="475.3" y2="553.5"/>
<line x1="356.2" y1="553.5" x2="356.2" y2="657.9"/>
<line x1="356.2" y1="657.9" x2="475.3" y2="657.9"/>
<line x1="361.5" y1="546.9" x2="361.5" y2="553.5" stroke="#222" stroke-width="1.0"/>
<path d="M361.5 546.9 q-0.8 -2.6 -3.2 -2.2 q-1.4 0.4 -1.5 2" stroke="#555" stroke-width="0.6"/>
<path d="M361.5 553.5 q-0.8 2.6 -3 2.2 q-1.2 -0.3 -1.4 -1.6" stroke="#777" stroke-width="0.6"/>
<line x1="408.5" y1="546.9" x2="408.5" y2="553.5" stroke="#222" stroke-width="1.0"/>
<path d="M408.5 546.9 q0.8 -2.6 3.2 -2.2 q1.4 0.4 1.5 2" stroke="#555" stroke-width="0.6"/>
<path d="M408.5 553.5 q0.8 2.6 3 2.2 q1.2 -0.3 1.4 -1.6" stroke="#777" stroke-width="0.6"/>
<line x1="362.7" y1="553.5" x2="362.7" y2="596.5"/>
<line x1="365.1" y1="553.5" x2="365.1" y2="596.5"/>
<line x1="362.7" y1="596.5" x2="365.1" y2="596.5"/>
<path d="M362.7 596.5 A43 43 0 0 0 405.7 553.5"/>
<path d="M423.6 553.5 L423.6 575.5 L452.2 604.6 L475.3 604.6"/>
<path d="M430 558.3 L469 558.3 Q471.3 558.3 471.3 560.5 L471.3 598.4 Q471.3 600.6 469 600.6 L455.5 600.6 Q454.1 600.6 453 599.5 L429 575.4 Q427.9 574.3 427.9 572.8 L427.9 560.5 Q427.9 558.3 430 558.3 Z"/>
<circle cx="461.3" cy="567.6" r="1.2"/>
<line x1="356.2" y1="620.9" x2="457" y2="620.9"/>
<circle cx="356.2" cy="620.9" r="0.9" stroke="none" fill="#333"/>
<circle cx="410.4" cy="620.9" r="0.9" stroke="none" fill="#333"/>
<circle cx="457" cy="620.9" r="0.9" stroke="none" fill="#333"/>
<text x="383" y="621.2" font-size="11.5" text-anchor="middle" fill="#5c5c5c" stroke="none">940</text>
<text x="433.8" y="621.2" font-size="11.5" text-anchor="middle" fill="#5c5c5c" stroke="none">800</text>
<line x1="356.2" y1="623.3" x2="410.4" y2="623.3"/>
<line x1="410.4" y1="620.9" x2="410.4" y2="657.9"/>
<circle cx="381.8" cy="641.7" r="11.3"/>
<circle cx="381.8" cy="641.7" r="10.1" stroke="#666" stroke-width="0.5"/>
<circle cx="381.8" cy="641.7" r="1.1"/>
<line x1="389.44" y1="649.34" x2="394.39" y2="654.29"/>
<path d="M389.44 649.34 L392.74 650.49 L390.59 652.64 Z" fill="#333"/>
<rect x="422.4" y="644.8" width="22.6" height="13.1" rx="1.5"/>
<path d="M423.2 644.8 L423.2 632 Q423.2 620.9 433.7 620.9 Q444.2 620.9 444.2 632 L444.2 644.8"/>
<path d="M423.2 643.5 Q433.7 647 444.2 643.5"/>
<path d="M423.2 641.5 Q433.7 645 444.2 641.5"/>
<circle cx="433.8" cy="652.4" r="1" fill="#444"/>
<rect x="457" y="610.9" width="18.3" height="21.9"/>
<circle cx="468.2" cy="615.6" r="2.6"/>
<circle cx="468.2" cy="625.2" r="2.6"/>
<circle cx="468.2" cy="615.6" r="0.9"/>
<circle cx="468.2" cy="625.2" r="0.9"/>
<rect x="457" y="635.2" width="18.3" height="22"/>
<rect x="459" y="637.2" width="14.6" height="18.2" stroke="#888" stroke-width="0.5"/>
<path d="M459.3 655.3 L471.7 650.9 L473.6 638.2 L473.6 655.3 Z" stroke="#555" stroke-width="0.6" fill="#747474"/>
<text x="394.8" y="607.46" font-size="15.52" font-family="Liberation Sans, Noto Sans CJK SC, sans-serif" fill="#2a2a2a" stroke="none">次卫</text>
<rect x="563.1" y="272.3" width="83.3" height="7.1"/>
<path d="M617.3 279.4 L617.3 302.3 L745.6 302.3 L745.6 279.4"/>
<rect x="638.6" y="287.2" width="85.5" height="3.9" rx="0.8"/>
<line x1="640" y1="289" x2="723" y2="289"/>
<path d="M640 287.2 L640 284.5 Q640 283 642 283 L650 283 L652 285.2 L655 285.2 L657 281.5 L707 281.5 L709 285.2 L712 285.2 L714 283 L721 283 Q723 283 723 284.5 L723 287.2"/>
<line x1="660" y1="281.5" x2="660" y2="284"/>
<line x1="671" y1="281.5" x2="671" y2="284"/>
<line x1="704" y1="281.5" x2="704" y2="284"/>
<line x1="657" y1="284" x2="707" y2="284"/>
<rect x="642.5" y="283.5" width="6" height="3" stroke-width="0.6" rx="1.2"/>
<rect x="715" y="283.5" width="6" height="3" stroke-width="0.6" rx="1.2"/>
<text x="653.5" y="340.86" font-size="15.52" font-family="Liberation Sans, Noto Sans CJK SC, sans-serif" fill="#2a2a2a" stroke="none">客厅</text>
<path d="M590.7 369 L590.7 351 L758.5 351 L758.5 375" stroke="#999"/>
<line x1="590.7" y1="409.5" x2="590.7" y2="424" stroke="#999"/>
<line x1="590.7" y1="463.5" x2="590.7" y2="478.5" stroke="#999"/>
<line x1="758.5" y1="462.1" x2="758.5" y2="478.5" stroke="#999"/>
<line x1="604.5" y1="495.9" x2="610.6" y2="495.9" stroke="#999"/>
<line x1="738.4" y1="495.9" x2="744.6" y2="495.9" stroke="#999"/>
<g transform="translate(581 389.4) rotate(0) scale(1.0)">
<path d="M18.5 -19.6 Q9 -19.4 -6.7 -17.7 Q-13 -16.8 -16.5 -14.2 Q-20.5 -10.5 -21 0 Q-20.5 10.5 -16.5 14.2 Q-13 16.8 -6.7 17.4 Q9 19.2 18.5 19.9"/>
<path d="M18.5 -19.6 Q21 -19.8 21.25 -17.3 L21.25 18.1 Q21 20.2 18.5 19.9"/>
<path d="M17.6 -17.6 Q11 -15 4.9 -13.2 Q-2 -12 -5.6 -10.6 Q-9.8 -8 -9.8 0 Q-9.8 8 -5.6 10.2 Q-2 12 4.9 13.4 Q11 15 17.6 17.6"/>
<path d="M-6.7 -17.7 Q-1 -14.8 4.9 -13.2 M-6.7 17.4 Q-1 15 4.9 13.4"/>
<path d="M-17.8 -13.4 Q-12 -11.5 -6 -10.4 M-17.8 13.4 Q-12 11.5 -6 10.2"/>
<path d="M-21 -0.3 L21.25 -0.3"/>
<circle cx="19.2" cy="-18.3" r="1.3" stroke-width="0.6"/>
<circle cx="19.2" cy="18.6" r="1.3" stroke-width="0.6"/>
</g>
<g transform="translate(581 443.7) rotate(0) scale(1.0)">
<path d="M18.5 -19.6 Q9 -19.4 -6.7 -17.7 Q-13 -16.8 -16.5 -14.2 Q-20.5 -10.5 -21 0 Q-20.5 10.5 -16.5 14.2 Q-13 16.8 -6.7 17.4 Q9 19.2 18.5 19.9"/>
<path d="M18.5 -19.6 Q21 -19.8 21.25 -17.3 L21.25 18.1 Q21 20.2 18.5 19.9"/>
<path d="M17.6 -17.6 Q11 -15 4.9 -13.2 Q-2 -12 -5.6 -10.6 Q-9.8 -8 -9.8 0 Q-9.8 8 -5.6 10.2 Q-2 12 4.9 13.4 Q11 15 17.6 17.6"/>
<path d="M-6.7 -17.7 Q-1 -14.8 4.9 -13.2 M-6.7 17.4 Q-1 15 4.9 13.4"/>
<path d="M-17.8 -13.4 Q-12 -11.5 -6 -10.4 M-17.8 13.4 Q-12 11.5 -6 10.2"/>
<path d="M-21 -0.3 L21.25 -0.3"/>
<circle cx="19.2" cy="-18.3" r="1.3" stroke-width="0.6"/>
<circle cx="19.2" cy="18.6" r="1.3" stroke-width="0.6"/>
</g>
<line x1="559.8" y1="382.1" x2="775.3" y2="382.1"/>
<circle cx="559.8" cy="382.1" r="0.9" stroke="none" fill="#333"/>
<circle cx="775.3" cy="382.1" r="0.9" stroke="none" fill="#333"/>
<text x="667.9" y="382.4" font-size="11.5" text-anchor="middle" fill="#5c5c5c" stroke="none">3700</text>
<line x1="681.8" y1="369.5" x2="681.8" y2="521.7"/>
<line x1="681.8" y1="369.5" x2="685" y2="369.5"/>
<circle cx="681.8" cy="369.5" r="0.9" stroke="none" fill="#333"/>
<circle cx="681.8" cy="521.7" r="0.9" stroke="none" fill="#333"/>
<text transform="translate(680.5 445.3) rotate(-90)" y="1.5" font-size="11.5" text-anchor="middle" fill="#5c5c5c" stroke="none">2629</text>
<rect x="650.5" y="390" width="52.5" height="52.7"/>
<rect x="739.5" y="375" width="35.2" height="87.1"/>
<path d="M610.6 521.7 L610.6 474 Q610.6 471.9 612.8 471.9 L616.6 471.9 Q618.8 471.9 618.8 474 L618.8 521.7 Z"/>
<path d="M738.4 521.7 L738.4 474 Q738.4 471.9 736.2 471.9 L732.9 471.9 Q730.7 471.9 730.7 474 L730.7 521.7 Z"/>
<line x1="618.8" y1="472.6" x2="730.7" y2="472.6"/>
<line x1="618.8" y1="510.8" x2="730.7" y2="510.8"/>
<line x1="618.8" y1="513.5" x2="730.7" y2="513.5"/>
<line x1="610.6" y1="521.7" x2="738.4" y2="521.7"/>
<line x1="674.6" y1="472.6" x2="674.6" y2="510.8"/>
<circle cx="587.1" cy="495.9" r="17.4"/>
<circle cx="587.1" cy="495.9" r="5.5" stroke="#999"/>
<circle cx="587.1" cy="495.9" r="2.6" stroke="#999"/>
<line x1="578.6" y1="495.9" x2="595.6" y2="495.9" stroke="#999"/>
<line x1="587.1" y1="487.4" x2="587.1" y2="504.4" stroke="#999"/>
<circle cx="762" cy="495.9" r="17.4"/>
<circle cx="762" cy="495.9" r="5.5" stroke="#999"/>
<circle cx="762" cy="495.9" r="2.6" stroke="#999"/>
<line x1="753.5" y1="495.9" x2="770.5" y2="495.9" stroke="#999"/>
<line x1="762" y1="487.4" x2="762" y2="504.4" stroke="#999"/>
<path d="M613.2 521.7 L613.2 559.5 L736 559.5 L736 521.7"/>
<line x1="613.2" y1="531.3" x2="736" y2="531.3"/>
<text x="674.6" y="531.9" font-size="11.5" text-anchor="middle" fill="#5c5c5c" stroke="none">2100</text>
<line x1="688.9" y1="521.7" x2="688.9" y2="559.5"/>
<circle cx="688.9" cy="521.7" r="0.9" stroke="none" fill="#333"/>
<circle cx="688.9" cy="559.5" r="0.9" stroke="none" fill="#333"/>
<text transform="translate(687.8 540.5) rotate(-90)" y="1.5" font-size="11.5" text-anchor="middle" fill="#5c5c5c" stroke="none">650</text>
<rect x="706.1" y="523.7" width="27.2" height="33.1"/>
<rect x="708.4" y="526.2" width="22.6" height="28.3"/>
<rect x="708.8" y="523.9" width="15.3" height="2.3" stroke="none" fill="#999"/>
<line x1="725.1" y1="521.7" x2="725.1" y2="766.2"/>
<circle cx="725.1" cy="521.7" r="0.9" stroke="none" fill="#333"/>
<circle cx="725.1" cy="559.5" r="0.9" stroke="none" fill="#333"/>
<text transform="translate(724 543.5) rotate(-90)" y="1.5" font-size="11.5" text-anchor="middle" fill="#5c5c5c" stroke="none">650</text>
<text transform="translate(724 597.8) rotate(-90)" y="1.5" font-size="11.5" text-anchor="middle" fill="#5c5c5c" stroke="none">1350</text>
<text x="646.2" y="546.66" font-size="15.52" font-family="Liberation Sans, Noto Sans CJK SC, sans-serif" fill="#2a2a2a" stroke="none">水吧</text>
<line x1="779.8" y1="279.4" x2="779.8" y2="766.2" stroke="#c4c4c4" stroke-width="1.2"/>
<line x1="790" y1="326" x2="790" y2="531.5"/>
<path d="M786.1 283.5 C788.83 283.86 788.83 285.53 786.1 285.89 C783.37 286.25 783.37 287.92 786.1 288.28 C788.83 288.64 788.83 290.32 786.1 290.67 C783.37 291.03 783.37 292.71 786.1 293.07 C788.83 293.43 788.83 295.1 786.1 295.46 C783.37 295.82 783.37 297.49 786.1 297.85 C788.83 298.21 788.83 299.88 786.1 300.24 C783.37 300.6 783.37 302.27 786.1 302.63 C788.83 302.99 788.83 304.67 786.1 305.02 C783.37 305.38 783.37 307.06 786.1 307.42 C788.83 307.78 788.83 309.45 786.1 309.81 C783.37 310.17 783.37 311.84 786.1 312.2" stroke="#3a3a3a" stroke-width="0.9"/>
<line x1="786.1" y1="312.2" x2="786.1" y2="332.6" stroke="#3a3a3a" stroke-width="0.9"/>
<line x1="786.1" y1="327.1" x2="786.1" y2="332.6" stroke="#111" stroke-width="1.8"/>
<line x1="786.1" y1="509.8" x2="786.1" y2="489.3" stroke="#3a3a3a" stroke-width="0.9"/>
<line x1="786.1" y1="494.8" x2="786.1" y2="489.3" stroke="#111" stroke-width="1.8"/>
<path d="M786.1 509.8 C788.83 510.16 788.83 511.83 786.1 512.18 C783.37 512.54 783.37 514.21 786.1 514.57 C788.83 514.92 788.83 516.59 786.1 516.95 C783.37 517.31 783.37 518.98 786.1 519.33 C788.83 519.69 788.83 521.36 786.1 521.72 C783.37 522.07 783.37 523.74 786.1 524.1 C788.83 524.46 788.83 526.13 786.1 526.48 C783.37 526.84 783.37 528.51 786.1 528.87 C788.83 529.22 788.83 530.89 786.1 531.25 C783.37 531.61 783.37 533.28 786.1 533.63 C788.83 533.99 788.83 535.66 786.1 536.02 C783.37 536.37 783.37 538.04 786.1 538.4" stroke="#3a3a3a" stroke-width="0.9"/>
<line x1="795.3" y1="326" x2="795.3" y2="496.4" stroke="#b0b0b0"/>
<rect x="799.4" y="326" width="2.7" height="46.1"/>
<rect x="802.1" y="349" width="2.4" height="46"/>
<rect x="802.1" y="426.7" width="2.4" height="47.3"/>
<rect x="799.4" y="451" width="2.7" height="45.4"/>
<rect x="795.6" y="496.4" width="14.1" height="35.1"/>
<line x1="486" y1="632.8" x2="732.7" y2="632.8"/>
<circle cx="489.5" cy="632.8" r="0.9" stroke="none" fill="#333"/>
<circle cx="499.7" cy="632.8" r="0.9" stroke="none" fill="#333"/>
<circle cx="565.4" cy="632.8" r="0.9" stroke="none" fill="#333"/>
<circle cx="616.6" cy="632.8" r="0.9" stroke="none" fill="#333"/>
<circle cx="732.7" cy="632.8" r="0.9" stroke="none" fill="#333"/>
<line x1="616.6" y1="630" x2="616.6" y2="637"/>
<line x1="732.8" y1="630" x2="732.8" y2="637"/>
<text x="494.7" y="632.9" font-size="10.5" text-anchor="middle" fill="#5c5c5c" stroke="none">175</text>
<text x="532.7" y="632.9" font-size="11.5" text-anchor="middle" fill="#5c5c5c" stroke="none">1155</text>
<text x="591.3" y="632.9" font-size="11.5" text-anchor="middle" fill="#5c5c5c" stroke="none">870</text>
<text x="674.4" y="632.9" font-size="11.5" text-anchor="middle" fill="#5c5c5c" stroke="none">2000</text>
<rect x="566" y="637.8" width="50.6" height="20.5"/>
<path d="M570.8 658.3 L570.8 640 L612.9 640 L612.9 658.3"/>
<line x1="591.9" y1="640" x2="591.9" y2="658.3"/>
<line x1="570.8" y1="658.3" x2="591.9" y2="640" stroke="#888" stroke-width="0.6"/>
<line x1="591.9" y1="658.3" x2="612.9" y2="640" stroke="#888" stroke-width="0.6"/>
<rect x="616.6" y="637.1" width="116.1" height="51.8"/>
<line x1="616.6" y1="676.2" x2="789.9" y2="676.2"/>
<circle cx="616.6" cy="676.2" r="0.9" stroke="none" fill="#333"/>
<circle cx="732.7" cy="676.2" r="0.9" stroke="none" fill="#333"/>
<circle cx="779.8" cy="676.2" r="0.9" stroke="none" fill="#333"/>
<text x="674.4" y="676.5" font-size="11.5" text-anchor="middle" fill="#5c5c5c" stroke="none">2000</text>
<text x="760.7" y="676.5" font-size="11.5" text-anchor="middle" fill="#5c5c5c" stroke="none">995</text>
<circle cx="725.1" cy="637.1" r="0.9" stroke="none" fill="#333"/>
<circle cx="725.1" cy="688.9" r="0.9" stroke="none" fill="#333"/>
<circle cx="725.1" cy="766.2" r="0.9" stroke="none" fill="#333"/>
<text transform="translate(724 663.7) rotate(-90)" y="1.5" font-size="11.5" text-anchor="middle" fill="#5c5c5c" stroke="none">900</text>
<text transform="translate(724 727.3) rotate(-90)" y="1.5" font-size="11.5" text-anchor="middle" fill="#5c5c5c" stroke="none">1320</text>
<line x1="623.1" y1="637.1" x2="623.1" y2="619.5" stroke="#333" stroke-width="1.2"/>
<line x1="652.9" y1="637.1" x2="652.9" y2="619.5" stroke="#333" stroke-width="1.2"/>
<path d="M624.9 637.1 L624.9 624 Q625.2 619.5 629.9 619.5 L646.5 619.5 Q651.2 619.5 651.5 624 L651.5 637.1"/>
<line x1="625.4" y1="624.6" x2="651" y2="624.6" stroke="#aaa" stroke-width="1.9"/>
<line x1="624.9" y1="625.8" x2="651.5" y2="625.8" stroke="#777" stroke-width="0.6"/>
<line x1="623.1" y1="688.9" x2="623.1" y2="706.5" stroke="#333" stroke-width="1.2"/>
<line x1="652.9" y1="688.9" x2="652.9" y2="706.5" stroke="#333" stroke-width="1.2"/>
<path d="M624.9 688.9 L624.9 702 Q625.2 706.5 629.9 706.5 L646.5 706.5 Q651.2 706.5 651.5 702 L651.5 688.9"/>
<line x1="625.4" y1="701.4" x2="651" y2="701.4" stroke="#aaa" stroke-width="1.9"/>
<line x1="624.9" y1="700.2" x2="651.5" y2="700.2" stroke="#777" stroke-width="0.6"/>
<line x1="659.5" y1="637.1" x2="659.5" y2="619.5" stroke="#333" stroke-width="1.2"/>
<line x1="689.3" y1="637.1" x2="689.3" y2="619.5" stroke="#333" stroke-width="1.2"/>
<path d="M661.3 637.1 L661.3 624 Q661.6 619.5 666.3 619.5 L682.9 619.5 Q687.6 619.5 687.9 624 L687.9 637.1"/>
<line x1="661.8" y1="624.6" x2="687.4" y2="624.6" stroke="#aaa" stroke-width="1.9"/>
<line x1="661.3" y1="625.8" x2="687.9" y2="625.8" stroke="#777" stroke-width="0.6"/>
<line x1="659.5" y1="688.9" x2="659.5" y2="706.5" stroke="#333" stroke-width="1.2"/>
<line x1="689.3" y1="688.9" x2="689.3" y2="706.5" stroke="#333" stroke-width="1.2"/>
<path d="M661.3 688.9 L661.3 702 Q661.6 706.5 666.3 706.5 L682.9 706.5 Q687.6 706.5 687.9 702 L687.9 688.9"/>
<line x1="661.8" y1="701.4" x2="687.4" y2="701.4" stroke="#aaa" stroke-width="1.9"/>
<line x1="661.3" y1="700.2" x2="687.9" y2="700.2" stroke="#777" stroke-width="0.6"/>
<line x1="695.9" y1="637.1" x2="695.9" y2="619.5" stroke="#333" stroke-width="1.2"/>
<line x1="725.7" y1="637.1" x2="725.7" y2="619.5" stroke="#333" stroke-width="1.2"/>
<path d="M697.7 637.1 L697.7 624 Q698 619.5 702.7 619.5 L719.3 619.5 Q724 619.5 724.3 624 L724.3 637.1"/>
<line x1="698.2" y1="624.6" x2="723.8" y2="624.6" stroke="#aaa" stroke-width="1.9"/>
<line x1="697.7" y1="625.8" x2="724.3" y2="625.8" stroke="#777" stroke-width="0.6"/>
<line x1="695.9" y1="688.9" x2="695.9" y2="706.5" stroke="#333" stroke-width="1.2"/>
<line x1="725.7" y1="688.9" x2="725.7" y2="706.5" stroke="#333" stroke-width="1.2"/>
<path d="M697.7 688.9 L697.7 702 Q698 706.5 702.7 706.5 L719.3 706.5 Q724 706.5 724.3 702 L724.3 688.9"/>
<line x1="698.2" y1="701.4" x2="723.8" y2="701.4" stroke="#aaa" stroke-width="1.9"/>
<line x1="697.7" y1="700.2" x2="724.3" y2="700.2" stroke="#777" stroke-width="0.6"/>
<text x="645" y="664.16" font-size="15.52" font-family="Liberation Sans, Noto Sans CJK SC, sans-serif" fill="#2a2a2a" stroke="none">餐厅</text>
<line x1="616.6" y1="766.2" x2="789.9" y2="766.2"/>
<line x1="617" y1="779.7" x2="789.3" y2="779.7"/>
<line x1="789.3" y1="779.7" x2="789.3" y2="832.3"/>
<line x1="789.3" y1="832.3" x2="803" y2="832.3"/>
<rect x="645.9" y="763.4" width="32.4" height="2.8" stroke-width="0.6"/>
<rect x="645.9" y="766.2" width="32.4" height="3" stroke="#111" fill="#111"/>
<text x="665.8" y="765.9" font-size="12.5" text-anchor="middle" fill="#666" stroke="none">PR</text>
<line x1="486" y1="633" x2="486" y2="640"/>
<rect x="489.5" y="638" width="10.2" height="26"/>
<line x1="499.7" y1="657.7" x2="566.2" y2="657.7" stroke="#ccc" stroke-width="1.5"/>
<line x1="499.7" y1="664.2" x2="566.2" y2="664.2" stroke="#ccc" stroke-width="1.5"/>
<line x1="489.5" y1="679.6" x2="566.2" y2="679.6" stroke="#888"/>
<path d="M532.6 664.2 L550.1 673.8 L515.6 673.8 Z" stroke="#555" stroke-width="0.7" fill="#858585"/>
<rect x="521.3" y="675.9" width="23.4" height="1.7" stroke="#111" stroke-width="0.5" fill="#111"/>
<rect x="521.6" y="679.5" width="22.8" height="3" stroke="#222" stroke-width="1.0" fill="#888"/>
<rect x="521.6" y="685.5" width="22.8" height="4.2" stroke="#222" stroke-width="1.0" fill="#909090"/>
<line x1="475.3" y1="680" x2="475.3" y2="721.5"/>
<line x1="475.3" y1="782.3" x2="475.3" y2="822.6"/>
<line x1="475.3" y1="721.5" x2="475.3" y2="782.3" stroke="#ccc"/>
<line x1="491.3" y1="680" x2="491.3" y2="721.5"/>
<line x1="475.3" y1="721.5" x2="491.3" y2="721.5"/>
<line x1="491.3" y1="782.3" x2="491.3" y2="822.6"/>
<line x1="475.3" y1="782.3" x2="491.3" y2="782.3"/>
<line x1="491.3" y1="721.5" x2="491.3" y2="782.3" stroke="#ccc"/>
<line x1="576.3" y1="679.4" x2="576.3" y2="822.6"/>
<line x1="581.5" y1="679.4" x2="581.5" y2="822.6"/>
<line x1="581.5" y1="715.5" x2="599.2" y2="715.5"/>
<line x1="581.5" y1="751" x2="599.2" y2="751"/>
<line x1="581.5" y1="787.3" x2="599.2" y2="787.3"/>
<line x1="581.5" y1="715.5" x2="599.2" y2="679.4" stroke="#999" stroke-width="0.6"/>
<line x1="581.5" y1="751" x2="599.2" y2="715.5" stroke="#999" stroke-width="0.6"/>
<line x1="581.5" y1="787.3" x2="599.2" y2="751" stroke="#999" stroke-width="0.6"/>
<line x1="581.5" y1="822.6" x2="599.2" y2="787.3" stroke="#999" stroke-width="0.6"/>
<line x1="581.5" y1="745.6" x2="599.2" y2="745.6"/>
<text x="590.6" y="745.9" font-size="10.5" text-anchor="middle" fill="#5c5c5c" stroke="none">300</text>
<text transform="translate(571.8 751) rotate(-90)" y="1.5" font-size="11.5" text-anchor="middle" fill="#5c5c5c" stroke="none">2480</text>
<text x="524" y="754.66" font-size="15.52" font-family="Liberation Sans, Noto Sans CJK SC, sans-serif" fill="#2a2a2a" stroke="none">门厅</text>
<line x1="348.4" y1="680" x2="348.4" y2="836.6"/>
<line x1="348.4" y1="836.6" x2="498.4" y2="836.6"/>
<line x1="498.4" y1="822.6" x2="498.4" y2="836.6"/>
<line x1="361.4" y1="680" x2="361.4" y2="822.6"/>
<line x1="361.4" y1="822.6" x2="498.4" y2="822.6"/>
<rect x="372.5" y="690.1" width="93.5" height="121.9"/>
<line x1="372.5" y1="690.1" x2="466" y2="812"/>
<line x1="372.5" y1="812" x2="466" y2="690.1"/>
<line x1="498.4" y1="822.6" x2="565.7" y2="822.6" stroke="#999"/>
<line x1="498.4" y1="836.6" x2="565.7" y2="836.6" stroke="#bbb"/>
<path d="M869.2 272.3 L901.7 272.3 L901.7 331.6 L887 331.6"/>
<line x1="887" y1="286.3" x2="887" y2="543.8"/>
<line x1="894.2" y1="331.6" x2="894.2" y2="511"/>
<line x1="901.7" y1="331.6" x2="901.7" y2="530"/>
<line x1="887" y1="511" x2="894.2" y2="511"/>
<line x1="809.7" y1="321" x2="887" y2="321"/>
<line x1="848.5" y1="286.3" x2="848.5" y2="321"/>
<line x1="869.2" y1="286.3" x2="887" y2="286.3"/>
<line x1="809.7" y1="321" x2="848.5" y2="286.3" stroke="#888" stroke-width="0.6"/>
<line x1="848.5" y1="321" x2="887" y2="286.3" stroke="#888" stroke-width="0.6"/>
<circle cx="816.8" cy="292.2" r="2.3"/>
<line x1="809.7" y1="326" x2="809.7" y2="531.5" stroke="#b0b0b0"/>
<g transform="translate(859.6 353) rotate(130.4) scale(1.0)">
<path d="M18.5 -19.6 Q9 -19.4 -6.7 -17.7 Q-13 -16.8 -16.5 -14.2 Q-20.5 -10.5 -21 0 Q-20.5 10.5 -16.5 14.2 Q-13 16.8 -6.7 17.4 Q9 19.2 18.5 19.9"/>
<path d="M18.5 -19.6 Q21 -19.8 21.25 -17.3 L21.25 18.1 Q21 20.2 18.5 19.9"/>
<path d="M17.6 -17.6 Q11 -15 4.9 -13.2 Q-2 -12 -5.6 -10.6 Q-9.8 -8 -9.8 0 Q-9.8 8 -5.6 10.2 Q-2 12 4.9 13.4 Q11 15 17.6 17.6"/>
<path d="M-6.7 -17.7 Q-1 -14.8 4.9 -13.2 M-6.7 17.4 Q-1 15 4.9 13.4"/>
<path d="M-17.8 -13.4 Q-12 -11.5 -6 -10.4 M-17.8 13.4 Q-12 11.5 -6 10.2"/>
<path d="M-21 -0.3 L21.25 -0.3"/>
<circle cx="19.2" cy="-18.3" r="1.3" stroke-width="0.6"/>
<circle cx="19.2" cy="18.6" r="1.3" stroke-width="0.6"/>
</g>
<g transform="translate(859.4 462.1) rotate(-128) scale(1.0)">
<path d="M18.5 -19.6 Q9 -19.4 -6.7 -17.7 Q-13 -16.8 -16.5 -14.2 Q-20.5 -10.5 -21 0 Q-20.5 10.5 -16.5 14.2 Q-13 16.8 -6.7 17.4 Q9 19.2 18.5 19.9"/>
<path d="M18.5 -19.6 Q21 -19.8 21.25 -17.3 L21.25 18.1 Q21 20.2 18.5 19.9"/>
<path d="M17.6 -17.6 Q11 -15 4.9 -13.2 Q-2 -12 -5.6 -10.6 Q-9.8 -8 -9.8 0 Q-9.8 8 -5.6 10.2 Q-2 12 4.9 13.4 Q11 15 17.6 17.6"/>
<path d="M-6.7 -17.7 Q-1 -14.8 4.9 -13.2 M-6.7 17.4 Q-1 15 4.9 13.4"/>
<path d="M-17.8 -13.4 Q-12 -11.5 -6 -10.4 M-17.8 13.4 Q-12 11.5 -6 10.2"/>
<path d="M-21 -0.3 L21.25 -0.3"/>
<circle cx="19.2" cy="-18.3" r="1.3" stroke-width="0.6"/>
<circle cx="19.2" cy="18.6" r="1.3" stroke-width="0.6"/>
</g>
<circle cx="865" cy="407.3" r="17"/>
<circle cx="865" cy="407.3" r="6.2"/>
<circle cx="865" cy="407.3" r="3.2"/>
<line x1="857.5" y1="399.8" x2="872.5" y2="414.8"/>
<line x1="857.5" y1="414.8" x2="872.5" y2="399.8"/>
<text x="816.5" y="412.16" font-size="15.52" font-family="Liberation Sans, Noto Sans CJK SC, sans-serif" fill="#2a2a2a" stroke="none">露台</text>
<circle cx="815.8" cy="522.7" r="2.3"/>
<circle cx="815.8" cy="522.7" r="0.8"/>
<path d="M886.4 542.7 L853.2 510.6"/>
<path d="M884.3 543.8 L852 512"/>
<line x1="852" y1="512" x2="853.2" y2="510.6"/>
<path d="M853.2 510.6 Q842.5 523 841.4 540.7"/>
<line x1="809.7" y1="540.7" x2="841.4" y2="540.7"/>
<line x1="809.7" y1="543.8" x2="841.4" y2="543.8"/>
<line x1="841.4" y1="540.7" x2="841.4" y2="543.8"/>
<line x1="901.7" y1="530" x2="1022" y2="530"/>
<line x1="915" y1="537" x2="1007.5" y2="537"/>
<line x1="884.3" y1="543.8" x2="1007.5" y2="543.8"/>
<line x1="915" y1="530" x2="915" y2="543.8"/>
<line x1="1007.5" y1="530" x2="1007.5" y2="635"/>
<line x1="1022" y1="530" x2="1022" y2="635"/>
<line x1="1007.5" y1="559.5" x2="1022" y2="559.5"/>
<line x1="1014.4" y1="559.5" x2="1014.4" y2="635"/>
<line x1="967.2" y1="543.8" x2="967.2" y2="646.2"/>
<line x1="970.2" y1="543.8" x2="970.2" y2="646.2"/>
<circle cx="1000.3" cy="551.2" r="2.6"/>
<circle cx="1000.3" cy="551.2" r="0.9"/>
<rect x="976.4" y="569.3" width="24.4" height="52.2"/>
<line x1="976.4" y1="621.5" x2="1000.8" y2="569.3"/>
<text transform="translate(985 587.5) scale(0.7 1)" font-size="16.5" font-family="Liberation Serif, serif" text-anchor="middle" fill="#000" stroke="none">A</text>
<text transform="translate(991.2 613.2) scale(0.7 1)" font-size="16.5" font-family="Liberation Serif, serif" text-anchor="middle" fill="#000" stroke="none">C</text>
<rect x="809.7" y="544.5" width="29.6" height="33.6"/>
<rect x="811.5" y="546.3" width="25.7" height="30.1" stroke="#666"/>
<line x1="832.7" y1="544.5" x2="832.7" y2="646.2"/>
<line x1="809.7" y1="578.1" x2="832.7" y2="544.5"/>
<line x1="809.7" y1="611.4" x2="832.7" y2="578.1"/>
<line x1="813.3" y1="638.8" x2="832.7" y2="611.4"/>
<line x1="809.7" y1="611.4" x2="832.7" y2="611.4"/>
<circle cx="813.8" cy="640" r="2.6"/>
<circle cx="823" cy="561.5" r="1" stroke="#666"/>
<rect x="817.7" y="611.4" width="35" height="34.8" rx="1.2"/>
<line x1="817.7" y1="616.7" x2="852.7" y2="616.7"/>
<line x1="817.7" y1="630" x2="852.7" y2="630"/>
<line x1="817.7" y1="641" x2="852.7" y2="641"/>
<rect x="819.7" y="612.5" width="3" height="3.1" stroke-width="0.5"/>
<rect x="830.7" y="612.7" width="6" height="2.9" stroke-width="0.5" fill="#999"/>
<rect x="838.7" y="612.7" width="6" height="2.9" stroke-width="0.5"/>
<line x1="820.2" y1="641" x2="820.2" y2="646.2"/>
<line x1="850.2" y1="641" x2="850.2" y2="646.2"/>
<rect x="857.5" y="611.4" width="34.9" height="34.8" rx="1.2"/>
<line x1="857.5" y1="616.7" x2="892.4" y2="616.7"/>
<line x1="857.5" y1="630" x2="892.4" y2="630"/>
<line x1="857.5" y1="641" x2="892.4" y2="641"/>
<rect x="859.5" y="612.5" width="3" height="3.1" stroke-width="0.5"/>
<rect x="870.5" y="612.7" width="6" height="2.9" stroke-width="0.5" fill="#999"/>
<rect x="878.5" y="612.7" width="6" height="2.9" stroke-width="0.5"/>
<line x1="860" y1="641" x2="860" y2="646.2"/>
<line x1="889.9" y1="641" x2="889.9" y2="646.2"/>
<rect x="895.2" y="611.4" width="70.2" height="33.4"/>
<rect x="896.5" y="612.7" width="67.6" height="30.8" stroke="#666" stroke-width="0.5"/>
<text x="914 925 936" y="633.1" font-size="10" font-family="Liberation Sans, Noto Sans CJK SC, sans-serif" fill="#333" stroke="none">操作台</text>
<text x="876" y="589.94" font-size="15.84" font-family="Liberation Sans, Noto Sans CJK SC, sans-serif" fill="#2a2a2a" stroke="none">洗衣房</text>
<line x1="901.7" y1="646.2" x2="962.4" y2="646.2"/>
<line x1="901.7" y1="651.2" x2="962.4" y2="651.2"/>
<line x1="901.7" y1="657.4" x2="962.4" y2="657.4"/>
<line x1="901.7" y1="663" x2="962.4" y2="663"/>
<line x1="962.4" y1="646.2" x2="962.4" y2="663"/>
<line x1="962.4" y1="663" x2="977.8" y2="663"/>
<line x1="901.7" y1="669.8" x2="977.8" y2="669.8"/>
<line x1="789.8" y1="669.8" x2="789.8" y2="708"/>
<line x1="803.1" y1="669.8" x2="803.1" y2="818.3"/>
<line x1="789.8" y1="761.3" x2="789.8" y2="766.2"/>
<line x1="789.8" y1="708" x2="803.1" y2="708" stroke="#222" stroke-width="1.0"/>
<path d="M789.8 708 q-2.6 -0.8 -2.2 -3.2 q0.4 -1.4 2 -1.5" stroke="#555" stroke-width="0.6"/>
<path d="M803.1 708 q2.6 -0.8 2.2 -3 q-0.3 -1.2 -1.6 -1.4" stroke="#777" stroke-width="0.6"/>
<line x1="789.8" y1="761.3" x2="803.1" y2="761.3" stroke="#222" stroke-width="1.0"/>
<path d="M789.8 761.3 q-2.6 0.8 -2.2 3.2 q0.4 1.4 2 1.5" stroke="#555" stroke-width="0.6"/>
<path d="M803.1 761.3 q2.6 0.8 2.2 3 q-0.3 1.2 -1.6 1.4" stroke="#777" stroke-width="0.6"/>
<line x1="805.6" y1="669.8" x2="805.6" y2="704"/>
<line x1="805.6" y1="704.8" x2="1007.1" y2="704.8"/>
<line x1="849.6" y1="669.8" x2="849.6" y2="704"/>
<line x1="896.6" y1="669.8" x2="896.6" y2="714.2"/>
<line x1="805.6" y1="704" x2="849.6" y2="669.8" stroke="#999" stroke-width="0.6"/>
<line x1="849.6" y1="704" x2="896.6" y2="669.8" stroke="#999" stroke-width="0.6"/>
<line x1="803.1" y1="714.2" x2="1007.1" y2="714.2"/>
<circle cx="803.1" cy="714.2" r="0.9" stroke="none" fill="#333"/>
<circle cx="896.6" cy="714.2" r="0.9" stroke="none" fill="#333"/>
<circle cx="1007.1" cy="714.2" r="0.9" stroke="none" fill="#333"/>
<text x="851.2" y="714.5" font-size="11.5" text-anchor="middle" fill="#5c5c5c" stroke="none">1560</text>
<text x="949.8" y="714.5" font-size="11.5" text-anchor="middle" fill="#888" stroke="none">2850</text>
<line x1="878.6" y1="704" x2="878.6" y2="783.4"/>
<circle cx="878.6" cy="704" r="0.9" stroke="none" fill="#333"/>
<circle cx="878.6" cy="783.4" r="0.9" stroke="none" fill="#333"/>
<text transform="translate(877.5 743.9) rotate(-90)" y="1.5" font-size="11.5" text-anchor="middle" fill="#5c5c5c" stroke="none">1350</text>
<line x1="803.1" y1="770.5" x2="1007.1" y2="770.5"/>
<circle cx="803.1" cy="770.5" r="0.9" stroke="none" fill="#333"/>
<circle cx="873.1" cy="770.5" r="0.9" stroke="none" fill="#333"/>
<circle cx="971.9" cy="770.5" r="0.9" stroke="none" fill="#333"/>
<circle cx="1007.1" cy="770.5" r="0.9" stroke="none" fill="#333"/>
<text x="838.3" y="770.8" font-size="11.5" text-anchor="middle" fill="#5c5c5c" stroke="none">1198</text>
<text x="922.2" y="770.8" font-size="11.5" text-anchor="middle" fill="#5c5c5c" stroke="none">1717</text>
<text x="989.7" y="770.8" font-size="11.5" text-anchor="middle" fill="#5c5c5c" stroke="none">615</text>
<rect x="817.8" y="781" width="52.2" height="37.3"/>
<path d="M817.8 786 L817.8 779 Q817.8 777 820 777 L868 777 Q870 777 870 779 L870 786" stroke-width="1.0"/>
<rect x="819.5" y="778.5" width="3" height="8" stroke-width="0.6" rx="1"/>
<rect x="865.3" y="778.5" width="3" height="8" stroke-width="0.6" rx="1"/>
<line x1="824" y1="779.5" x2="864" y2="779.5" stroke="#222" stroke-width="1.4"/>
<line x1="824" y1="781.5" x2="864" y2="781.5" stroke="#666"/>
<line x1="872.5" y1="783.4" x2="872.5" y2="818.3"/>
<line x1="872.5" y1="783.4" x2="972.3" y2="783.4"/>
<line x1="972.3" y1="783.4" x2="972.3" y2="818.3"/>
<rect x="914" y="789.9" width="42.4" height="21.9" stroke="#111" stroke-width="1.0" fill="#e8e8e8" rx="2.2"/>
<circle cx="923.2" cy="799.5" r="6.2" stroke="#111" fill="#fff"/>
<circle cx="923.2" cy="799.5" r="4.2" stroke="#111" stroke-width="1.0"/>
<circle cx="923.2" cy="799.5" r="2" stroke="#111" fill="#333"/>
<line x1="916.2" y1="799.5" x2="930.2" y2="799.5" stroke-width="0.5"/>
<line x1="923.2" y1="792.5" x2="923.2" y2="806.5" stroke-width="0.5"/>
<circle cx="947.3" cy="799.5" r="6.2" stroke="#111" fill="#fff"/>
<circle cx="947.3" cy="799.5" r="4.2" stroke="#111" stroke-width="1.0"/>
<circle cx="947.3" cy="799.5" r="2" stroke="#111" fill="#333"/>
<line x1="940.3" y1="799.5" x2="954.3" y2="799.5" stroke-width="0.5"/>
<line x1="947.3" y1="792.5" x2="947.3" y2="806.5" stroke-width="0.5"/>
<rect x="931.4" y="792.6" width="7.8" height="12.2" stroke="#222" fill="#ccc" rx="1.5"/>
<line x1="931.8" y1="795" x2="938.8" y2="795" stroke-width="0.5"/>
<line x1="931.8" y1="797.5" x2="938.8" y2="797.5" stroke-width="0.5"/>
<line x1="931.8" y1="800" x2="938.8" y2="800" stroke-width="0.5"/>
<line x1="931.8" y1="802.5" x2="938.8" y2="802.5" stroke-width="0.5"/>
<rect x="930" y="807.6" width="3" height="1.8" stroke="none" fill="#222"/>
<rect x="938" y="807.6" width="3" height="1.8" stroke="none" fill="#222"/>
<rect x="973.3" y="784.6" width="33.8" height="33.7" stroke="#888"/>
<rect x="974.6" y="786" width="31" height="30.8" stroke="#777" stroke-width="0.5"/>
<path d="M975.3 815.6 L1001.1 807.8 L1005.6 786.5 L1005.6 815.6 Z" stroke="#555" stroke-width="0.6" fill="#747474"/>
<rect x="924.2" y="676.1" width="38.6" height="25.4" stroke="#444" stroke-width="1.3" rx="2.2"/>
<rect x="926.3" y="680.2" width="15.7" height="19.4" stroke="#555" stroke-width="1.0" rx="3.2"/>
<rect x="944.8" y="680.2" width="15.7" height="19.4" stroke="#555" stroke-width="1.0" rx="3.2"/>
<ellipse cx="934.2" cy="687.4" rx="1.2" ry="0.9" stroke="none" fill="#333"/>
<ellipse cx="952.6" cy="687.4" rx="1.2" ry="0.9" stroke="none" fill="#333"/>
<line x1="943.4" y1="679.5" x2="947.4" y2="686.5" stroke="#222" stroke-width="1.6"/>
<line x1="941.5" y1="678.3" x2="945.5" y2="679.3" stroke="#333" stroke-width="1.0"/>
<circle cx="948" cy="688.5" r="0.8" stroke="none" fill="#222"/>
<path d="M938.3 711.5 Q938.5 700 944.5 695.5 Q950.3 690.5 955.5 695.5 Q962 700 963.2 711.5"/>
<path d="M941.5 709 Q942 701.5 946.5 697.5 Q950.3 694.5 954 697.5 Q959 701.5 960 709" stroke-width="0.6"/>
<circle cx="950.3" cy="693.6" r="2.2" stroke-width="0.7"/>
<ellipse cx="949.9" cy="714.9" rx="13.9" ry="9.2"/>
<path d="M938 709 Q943 706 948 709 Q953 706 961 708.5" stroke-width="0.6"/>
<rect x="958.5" y="707.5" width="4" height="6" stroke-width="0.6" rx="1.2"/>
<path d="M943 713 Q944 708.5 949 709.5 Q956 710.5 956.5 716.5 Q957 722 952.5 723.5 Q946 724 943.5 719.5 Q941.5 716 943 713 Z" stroke="#0a0a0a" fill="#0a0a0a"/>
<rect x="806" y="752.5" width="2.2" height="47"/>
<rect x="803.5" y="805.7" width="10.9" height="12.6"/>
<circle cx="809" cy="811.8" r="2.8"/>
<circle cx="809" cy="811.8" r="1.1"/>
<circle cx="982.2" cy="673.5" r="3"/>
<rect x="990" y="670.5" width="13.4" height="6.5" rx="0.8"/>
<line x1="985.2" y1="672.3" x2="990" y2="672.3" stroke-width="0.6"/>
<line x1="985.2" y1="675" x2="990" y2="675" stroke-width="0.6"/>
<text x="884.3" y="748.26" font-size="15.52" font-family="Liberation Sans, Noto Sans CJK SC, sans-serif" fill="#2a2a2a" stroke="none">厨房</text>
<line x1="1071" y1="656.3" x2="1097" y2="656.3"/>
<line x1="1071" y1="660.9" x2="1097" y2="660.9"/>
<line x1="1071" y1="665.5" x2="1097" y2="665.5"/>
<line x1="1071" y1="670.3" x2="1097" y2="670.3"/>
<line x1="1007.3" y1="670.3" x2="1007.3" y2="713.9"/>
<line x1="1014.1" y1="670.3" x2="1014.1" y2="770.9"/>
<line x1="1007.3" y1="765" x2="1007.3" y2="770.9"/>
<line x1="1007.3" y1="713.9" x2="1014.1" y2="713.9" stroke="#222" stroke-width="1.0"/>
<path d="M1007.3 713.9 q-2.6 -0.8 -2.2 -3.2 q0.4 -1.4 2 -1.5" stroke="#555" stroke-width="0.6"/>
<path d="M1014.1 713.9 q2.6 -0.8 2.2 -3 q-0.3 -1.2 -1.6 -1.4" stroke="#777" stroke-width="0.6"/>
<line x1="1007.3" y1="765" x2="1014.1" y2="765" stroke="#222" stroke-width="1.0"/>
<path d="M1007.3 765 q-2.6 0.8 -2.2 3.2 q0.4 1.4 2 1.5" stroke="#555" stroke-width="0.6"/>
<path d="M1014.1 765 q2.6 0.8 2.2 3 q-0.3 1.2 -1.6 1.4" stroke="#777" stroke-width="0.6"/>
<line x1="1014.1" y1="704.8" x2="1126.1" y2="704.8"/>
<line x1="1126.1" y1="670.3" x2="1126.1" y2="704.8"/>
<line x1="1033.6" y1="670.3" x2="1033.6" y2="704.8"/>
<line x1="1080" y1="670.3" x2="1080" y2="704.8"/>
<line x1="1103.4" y1="670.3" x2="1103.4" y2="704.8"/>
<line x1="1033.6" y1="704.8" x2="1080" y2="670.3"/>
<line x1="1080" y1="704.8" x2="1126.1" y2="670.3"/>
<line x1="1014.1" y1="698.6" x2="1126.1" y2="698.6"/>
<circle cx="1014.1" cy="698.6" r="0.9" stroke="none" fill="#333"/>
<circle cx="1033.6" cy="698.6" r="0.9" stroke="none" fill="#333"/>
<circle cx="1126.1" cy="698.6" r="0.9" stroke="none" fill="#333"/>
<circle cx="1103.4" cy="670.3" r="0.9" stroke="none" fill="#333"/>
<circle cx="1103.4" cy="704.8" r="0.9" stroke="none" fill="#333"/>
<circle cx="1027.7" cy="680.5" r="2.4"/>
<circle cx="1027.7" cy="688.9" r="2.4"/>
<circle cx="1027.7" cy="696.8" r="2.4"/>
<text x="1023.9" y="698.9" font-size="10.5" text-anchor="middle" fill="#5c5c5c" stroke="none">328</text>
<text x="1080" y="698.9" font-size="11.5" text-anchor="middle" fill="#5c5c5c" stroke="none">1600</text>
<text transform="translate(1102 687.7) rotate(-90)" y="1.5" font-size="11.5" text-anchor="middle" fill="#5c5c5c" stroke="none">600</text>
<line x1="1014.1" y1="761.6" x2="1061.4" y2="761.6"/>
<line x1="1014.1" y1="763.9" x2="1061.4" y2="763.9"/>
<line x1="1061.4" y1="761.6" x2="1061.4" y2="763.9"/>
<path d="M1061.4 761.6 A46.5 46.5 0 0 0 1014.1 716.1"/>
<path d="M1244.3 670.3 L1131 670.3 Q1128.4 670.3 1128.4 673 L1128.4 737 Q1128.4 740 1131 740 L1244.3 740"/>
<path d="M1128.4 673 q1.6 -0.2 2 -2 M1128.4 737 q1.6 0.2 2 2" stroke-width="1.2"/>
<line x1="1128.4" y1="721.4" x2="1244.3" y2="721.4"/>
<text x="1186.8" y="721.7" font-size="11.5" text-anchor="middle" fill="#5c5c5c" stroke="none">2000</text>
<line x1="1151.8" y1="670.3" x2="1151.8" y2="771.4"/>
<circle cx="1151.8" cy="670.3" r="0.9" stroke="none" fill="#333"/>
<circle cx="1151.8" cy="740" r="0.9" stroke="none" fill="#333"/>
<circle cx="1151.8" cy="771.4" r="0.9" stroke="none" fill="#333"/>
<text transform="translate(1150.6 704.8) rotate(-90)" y="1.5" font-size="11.5" text-anchor="middle" fill="#5c5c5c" stroke="none">1200</text>
<text transform="translate(1150.6 755.9) rotate(-90)" y="1.5" font-size="11.5" text-anchor="middle" fill="#5c5c5c" stroke="none">540</text>
<rect x="1219.3" y="685.5" width="22.7" height="35.9" stroke="#222" stroke-width="1.2" rx="1.2"/>
<path d="M1231 688 Q1238 702 1236 720"/>
<path d="M1234 688 Q1240 700 1239 714" stroke="#666"/>
<path d="M1213.2 670.3 Q1221 697 1213.6 724 Q1207 733 1197.7 733.6"/>
<path d="M1197.7 733.6 Q1205 732 1206 740"/>
<path d="M1216 712 Q1214 724 1209 731"/>
<path d="M1212.5 740 L1212.5 796.8 L1239.8 796.8"/>
<line x1="1239.8" y1="740" x2="1239.8" y2="822.5"/>
<path d="M1228.4 753.6 L1199 753.6 Q1196.6 753.6 1196.6 756 L1196.6 781.2 Q1196.6 783.6 1199 783.6 L1228.4 783.6" stroke="#555"/>
<line x1="1228.4" y1="753.6" x2="1228.4" y2="783.6" stroke="#bbb"/>
<path d="M1202 753.6 Q1205 768 1202 783.6" stroke="#555"/>
<line x1="1157.3" y1="794" x2="1244.3" y2="794"/>
<circle cx="1157.3" cy="794" r="0.9" stroke="none" fill="#333"/>
<circle cx="1212.5" cy="794" r="0.9" stroke="none" fill="#333"/>
<circle cx="1244.3" cy="794" r="0.9" stroke="none" fill="#333"/>
<text x="1185.2" y="794.3" font-size="11.5" text-anchor="middle" fill="#5c5c5c" stroke="none">960</text>
<text x="1229" y="794.3" font-size="11.5" text-anchor="middle" fill="#5c5c5c" stroke="none">550</text>
<text transform="translate(1238.6 768.4) rotate(-90)" y="1.5" font-size="11.5" text-anchor="middle" fill="#5c5c5c" stroke="none">1000</text>
<text transform="translate(1238.6 810.5) rotate(-90)" y="1.5" font-size="11.5" text-anchor="middle" fill="#5c5c5c" stroke="none">435</text>
<circle cx="1239.8" cy="740" r="0.9" stroke="none" fill="#333"/>
<circle cx="1239.8" cy="796.8" r="0.9" stroke="none" fill="#333"/>
<circle cx="1239.8" cy="822.5" r="0.9" stroke="none" fill="#333"/>
<rect x="1169.6" y="822.5" width="12.2" height="14.2"/>
<rect x="1242.5" y="822.5" width="27.2" height="14.2"/>
<line x1="1181.8" y1="822.5" x2="1242.5" y2="822.5" stroke="#bbb" stroke-width="1.2"/>
<line x1="1181.8" y1="836.7" x2="1242.5" y2="836.7" stroke="#bbb" stroke-width="1.2"/>
<line x1="1269.6" y1="793" x2="1269.6" y2="822.5"/>
<line x1="1244.4" y1="793" x2="1244.4" y2="822.5" stroke="#aaa"/>
<line x1="1255.4" y1="793" x2="1255.4" y2="822.5"/>
<line x1="1260.6" y1="793" x2="1260.6" y2="822.5"/>
<line x1="1265.2" y1="793" x2="1265.2" y2="822.5"/>
<path d="M1038.6 816.8 L1121.6 809.3 L1142 787.7" stroke="#aaa"/>
<rect x="1201.3" y="842.7" width="22.3" height="3.9" stroke="#222" stroke-width="1.1" fill="#999"/>
<rect x="1201.3" y="850.2" width="22.3" height="2.5" stroke="#222" stroke-width="1.0" fill="#eee"/>
<rect x="1200.9" y="855" width="23.1" height="1.9" stroke="#111" stroke-width="0.4" fill="#111"/>
<path d="M1194.5 858.1 L1230.1 858.1 L1212.2 868.7 Z" stroke="none" fill="#888"/>
<text x="1068" y="739.84" font-size="15.73" font-family="Liberation Sans, Noto Sans CJK SC, sans-serif" fill="#2a2a2a" stroke="none">工人房</text>
</svg>
</body></html>
